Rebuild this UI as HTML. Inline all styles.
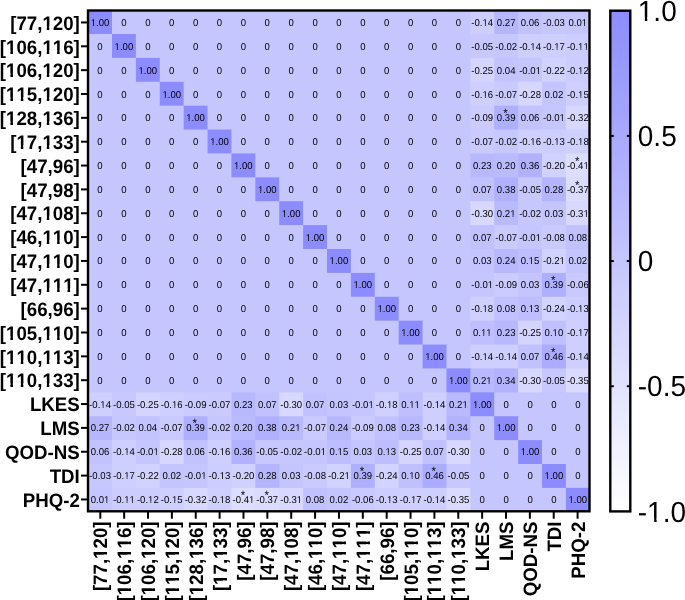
<!DOCTYPE html><html><head><meta charset="utf-8"><title>Correlation heatmap</title><style>html,body{margin:0;padding:0;background:#fff;width:685px;height:600px;overflow:hidden}svg{display:block;will-change:transform}text{font-family:"Liberation Sans",sans-serif;text-rendering:geometricPrecision;font-kerning:none}</style></head><body>
<svg width="685" height="600" viewBox="0 0 685 600">
<defs><linearGradient id="cb" x1="0" y1="0" x2="0" y2="1"><stop offset="0" stop-color="rgb(140,140,255)"/><stop offset="1" stop-color="#ffffff"/></linearGradient></defs>
<rect x="88.10" y="10.10" width="24.89" height="24.89" fill="rgb(140,140,255)"/>
<rect x="111.99" y="10.10" width="24.89" height="24.89" fill="rgb(198,198,255)"/>
<rect x="135.88" y="10.10" width="24.89" height="24.89" fill="rgb(198,198,255)"/>
<rect x="159.77" y="10.10" width="24.89" height="24.89" fill="rgb(198,198,255)"/>
<rect x="183.66" y="10.10" width="24.89" height="24.89" fill="rgb(198,198,255)"/>
<rect x="207.55" y="10.10" width="24.89" height="24.89" fill="rgb(198,198,255)"/>
<rect x="231.44" y="10.10" width="24.89" height="24.89" fill="rgb(198,198,255)"/>
<rect x="255.33" y="10.10" width="24.89" height="24.89" fill="rgb(198,198,255)"/>
<rect x="279.22" y="10.10" width="24.89" height="24.89" fill="rgb(198,198,255)"/>
<rect x="303.11" y="10.10" width="24.89" height="24.89" fill="rgb(198,198,255)"/>
<rect x="327.00" y="10.10" width="24.89" height="24.89" fill="rgb(198,198,255)"/>
<rect x="350.89" y="10.10" width="24.89" height="24.89" fill="rgb(198,198,255)"/>
<rect x="374.78" y="10.10" width="24.89" height="24.89" fill="rgb(198,198,255)"/>
<rect x="398.67" y="10.10" width="24.89" height="24.89" fill="rgb(198,198,255)"/>
<rect x="422.56" y="10.10" width="24.89" height="24.89" fill="rgb(198,198,255)"/>
<rect x="446.45" y="10.10" width="24.89" height="24.89" fill="rgb(198,198,255)"/>
<rect x="470.34" y="10.10" width="24.89" height="24.89" fill="rgb(206,206,255)"/>
<rect x="494.23" y="10.10" width="24.89" height="24.89" fill="rgb(182,182,255)"/>
<rect x="518.12" y="10.10" width="24.89" height="24.89" fill="rgb(194,194,255)"/>
<rect x="542.01" y="10.10" width="24.89" height="24.89" fill="rgb(199,199,255)"/>
<rect x="565.90" y="10.10" width="23.89" height="24.89" fill="rgb(197,197,255)"/>
<rect x="88.10" y="33.99" width="24.89" height="24.89" fill="rgb(198,198,255)"/>
<rect x="111.99" y="33.99" width="24.89" height="24.89" fill="rgb(140,140,255)"/>
<rect x="135.88" y="33.99" width="24.89" height="24.89" fill="rgb(198,198,255)"/>
<rect x="159.77" y="33.99" width="24.89" height="24.89" fill="rgb(198,198,255)"/>
<rect x="183.66" y="33.99" width="24.89" height="24.89" fill="rgb(198,198,255)"/>
<rect x="207.55" y="33.99" width="24.89" height="24.89" fill="rgb(198,198,255)"/>
<rect x="231.44" y="33.99" width="24.89" height="24.89" fill="rgb(198,198,255)"/>
<rect x="255.33" y="33.99" width="24.89" height="24.89" fill="rgb(198,198,255)"/>
<rect x="279.22" y="33.99" width="24.89" height="24.89" fill="rgb(198,198,255)"/>
<rect x="303.11" y="33.99" width="24.89" height="24.89" fill="rgb(198,198,255)"/>
<rect x="327.00" y="33.99" width="24.89" height="24.89" fill="rgb(198,198,255)"/>
<rect x="350.89" y="33.99" width="24.89" height="24.89" fill="rgb(198,198,255)"/>
<rect x="374.78" y="33.99" width="24.89" height="24.89" fill="rgb(198,198,255)"/>
<rect x="398.67" y="33.99" width="24.89" height="24.89" fill="rgb(198,198,255)"/>
<rect x="422.56" y="33.99" width="24.89" height="24.89" fill="rgb(198,198,255)"/>
<rect x="446.45" y="33.99" width="24.89" height="24.89" fill="rgb(198,198,255)"/>
<rect x="470.34" y="33.99" width="24.89" height="24.89" fill="rgb(200,200,255)"/>
<rect x="494.23" y="33.99" width="24.89" height="24.89" fill="rgb(199,199,255)"/>
<rect x="518.12" y="33.99" width="24.89" height="24.89" fill="rgb(206,206,255)"/>
<rect x="542.01" y="33.99" width="24.89" height="24.89" fill="rgb(207,207,255)"/>
<rect x="565.90" y="33.99" width="23.89" height="24.89" fill="rgb(204,204,255)"/>
<rect x="88.10" y="57.88" width="24.89" height="24.89" fill="rgb(198,198,255)"/>
<rect x="111.99" y="57.88" width="24.89" height="24.89" fill="rgb(198,198,255)"/>
<rect x="135.88" y="57.88" width="24.89" height="24.89" fill="rgb(140,140,255)"/>
<rect x="159.77" y="57.88" width="24.89" height="24.89" fill="rgb(198,198,255)"/>
<rect x="183.66" y="57.88" width="24.89" height="24.89" fill="rgb(198,198,255)"/>
<rect x="207.55" y="57.88" width="24.89" height="24.89" fill="rgb(198,198,255)"/>
<rect x="231.44" y="57.88" width="24.89" height="24.89" fill="rgb(198,198,255)"/>
<rect x="255.33" y="57.88" width="24.89" height="24.89" fill="rgb(198,198,255)"/>
<rect x="279.22" y="57.88" width="24.89" height="24.89" fill="rgb(198,198,255)"/>
<rect x="303.11" y="57.88" width="24.89" height="24.89" fill="rgb(198,198,255)"/>
<rect x="327.00" y="57.88" width="24.89" height="24.89" fill="rgb(198,198,255)"/>
<rect x="350.89" y="57.88" width="24.89" height="24.89" fill="rgb(198,198,255)"/>
<rect x="374.78" y="57.88" width="24.89" height="24.89" fill="rgb(198,198,255)"/>
<rect x="398.67" y="57.88" width="24.89" height="24.89" fill="rgb(198,198,255)"/>
<rect x="422.56" y="57.88" width="24.89" height="24.89" fill="rgb(198,198,255)"/>
<rect x="446.45" y="57.88" width="24.89" height="24.89" fill="rgb(198,198,255)"/>
<rect x="470.34" y="57.88" width="24.89" height="24.89" fill="rgb(212,212,255)"/>
<rect x="494.23" y="57.88" width="24.89" height="24.89" fill="rgb(195,195,255)"/>
<rect x="518.12" y="57.88" width="24.89" height="24.89" fill="rgb(198,198,255)"/>
<rect x="542.01" y="57.88" width="24.89" height="24.89" fill="rgb(210,210,255)"/>
<rect x="565.90" y="57.88" width="23.89" height="24.89" fill="rgb(204,204,255)"/>
<rect x="88.10" y="81.77" width="24.89" height="24.89" fill="rgb(198,198,255)"/>
<rect x="111.99" y="81.77" width="24.89" height="24.89" fill="rgb(198,198,255)"/>
<rect x="135.88" y="81.77" width="24.89" height="24.89" fill="rgb(198,198,255)"/>
<rect x="159.77" y="81.77" width="24.89" height="24.89" fill="rgb(140,140,255)"/>
<rect x="183.66" y="81.77" width="24.89" height="24.89" fill="rgb(198,198,255)"/>
<rect x="207.55" y="81.77" width="24.89" height="24.89" fill="rgb(198,198,255)"/>
<rect x="231.44" y="81.77" width="24.89" height="24.89" fill="rgb(198,198,255)"/>
<rect x="255.33" y="81.77" width="24.89" height="24.89" fill="rgb(198,198,255)"/>
<rect x="279.22" y="81.77" width="24.89" height="24.89" fill="rgb(198,198,255)"/>
<rect x="303.11" y="81.77" width="24.89" height="24.89" fill="rgb(198,198,255)"/>
<rect x="327.00" y="81.77" width="24.89" height="24.89" fill="rgb(198,198,255)"/>
<rect x="350.89" y="81.77" width="24.89" height="24.89" fill="rgb(198,198,255)"/>
<rect x="374.78" y="81.77" width="24.89" height="24.89" fill="rgb(198,198,255)"/>
<rect x="398.67" y="81.77" width="24.89" height="24.89" fill="rgb(198,198,255)"/>
<rect x="422.56" y="81.77" width="24.89" height="24.89" fill="rgb(198,198,255)"/>
<rect x="446.45" y="81.77" width="24.89" height="24.89" fill="rgb(198,198,255)"/>
<rect x="470.34" y="81.77" width="24.89" height="24.89" fill="rgb(207,207,255)"/>
<rect x="494.23" y="81.77" width="24.89" height="24.89" fill="rgb(202,202,255)"/>
<rect x="518.12" y="81.77" width="24.89" height="24.89" fill="rgb(214,214,255)"/>
<rect x="542.01" y="81.77" width="24.89" height="24.89" fill="rgb(196,196,255)"/>
<rect x="565.90" y="81.77" width="23.89" height="24.89" fill="rgb(206,206,255)"/>
<rect x="88.10" y="105.66" width="24.89" height="24.89" fill="rgb(198,198,255)"/>
<rect x="111.99" y="105.66" width="24.89" height="24.89" fill="rgb(198,198,255)"/>
<rect x="135.88" y="105.66" width="24.89" height="24.89" fill="rgb(198,198,255)"/>
<rect x="159.77" y="105.66" width="24.89" height="24.89" fill="rgb(198,198,255)"/>
<rect x="183.66" y="105.66" width="24.89" height="24.89" fill="rgb(140,140,255)"/>
<rect x="207.55" y="105.66" width="24.89" height="24.89" fill="rgb(198,198,255)"/>
<rect x="231.44" y="105.66" width="24.89" height="24.89" fill="rgb(198,198,255)"/>
<rect x="255.33" y="105.66" width="24.89" height="24.89" fill="rgb(198,198,255)"/>
<rect x="279.22" y="105.66" width="24.89" height="24.89" fill="rgb(198,198,255)"/>
<rect x="303.11" y="105.66" width="24.89" height="24.89" fill="rgb(198,198,255)"/>
<rect x="327.00" y="105.66" width="24.89" height="24.89" fill="rgb(198,198,255)"/>
<rect x="350.89" y="105.66" width="24.89" height="24.89" fill="rgb(198,198,255)"/>
<rect x="374.78" y="105.66" width="24.89" height="24.89" fill="rgb(198,198,255)"/>
<rect x="398.67" y="105.66" width="24.89" height="24.89" fill="rgb(198,198,255)"/>
<rect x="422.56" y="105.66" width="24.89" height="24.89" fill="rgb(198,198,255)"/>
<rect x="446.45" y="105.66" width="24.89" height="24.89" fill="rgb(198,198,255)"/>
<rect x="470.34" y="105.66" width="24.89" height="24.89" fill="rgb(203,203,255)"/>
<rect x="494.23" y="105.66" width="24.89" height="24.89" fill="rgb(175,175,255)"/>
<rect x="518.12" y="105.66" width="24.89" height="24.89" fill="rgb(194,194,255)"/>
<rect x="542.01" y="105.66" width="24.89" height="24.89" fill="rgb(198,198,255)"/>
<rect x="565.90" y="105.66" width="23.89" height="24.89" fill="rgb(216,216,255)"/>
<rect x="88.10" y="129.55" width="24.89" height="24.89" fill="rgb(198,198,255)"/>
<rect x="111.99" y="129.55" width="24.89" height="24.89" fill="rgb(198,198,255)"/>
<rect x="135.88" y="129.55" width="24.89" height="24.89" fill="rgb(198,198,255)"/>
<rect x="159.77" y="129.55" width="24.89" height="24.89" fill="rgb(198,198,255)"/>
<rect x="183.66" y="129.55" width="24.89" height="24.89" fill="rgb(198,198,255)"/>
<rect x="207.55" y="129.55" width="24.89" height="24.89" fill="rgb(140,140,255)"/>
<rect x="231.44" y="129.55" width="24.89" height="24.89" fill="rgb(198,198,255)"/>
<rect x="255.33" y="129.55" width="24.89" height="24.89" fill="rgb(198,198,255)"/>
<rect x="279.22" y="129.55" width="24.89" height="24.89" fill="rgb(198,198,255)"/>
<rect x="303.11" y="129.55" width="24.89" height="24.89" fill="rgb(198,198,255)"/>
<rect x="327.00" y="129.55" width="24.89" height="24.89" fill="rgb(198,198,255)"/>
<rect x="350.89" y="129.55" width="24.89" height="24.89" fill="rgb(198,198,255)"/>
<rect x="374.78" y="129.55" width="24.89" height="24.89" fill="rgb(198,198,255)"/>
<rect x="398.67" y="129.55" width="24.89" height="24.89" fill="rgb(198,198,255)"/>
<rect x="422.56" y="129.55" width="24.89" height="24.89" fill="rgb(198,198,255)"/>
<rect x="446.45" y="129.55" width="24.89" height="24.89" fill="rgb(198,198,255)"/>
<rect x="470.34" y="129.55" width="24.89" height="24.89" fill="rgb(202,202,255)"/>
<rect x="494.23" y="129.55" width="24.89" height="24.89" fill="rgb(199,199,255)"/>
<rect x="518.12" y="129.55" width="24.89" height="24.89" fill="rgb(207,207,255)"/>
<rect x="542.01" y="129.55" width="24.89" height="24.89" fill="rgb(205,205,255)"/>
<rect x="565.90" y="129.55" width="23.89" height="24.89" fill="rgb(208,208,255)"/>
<rect x="88.10" y="153.44" width="24.89" height="24.89" fill="rgb(198,198,255)"/>
<rect x="111.99" y="153.44" width="24.89" height="24.89" fill="rgb(198,198,255)"/>
<rect x="135.88" y="153.44" width="24.89" height="24.89" fill="rgb(198,198,255)"/>
<rect x="159.77" y="153.44" width="24.89" height="24.89" fill="rgb(198,198,255)"/>
<rect x="183.66" y="153.44" width="24.89" height="24.89" fill="rgb(198,198,255)"/>
<rect x="207.55" y="153.44" width="24.89" height="24.89" fill="rgb(198,198,255)"/>
<rect x="231.44" y="153.44" width="24.89" height="24.89" fill="rgb(140,140,255)"/>
<rect x="255.33" y="153.44" width="24.89" height="24.89" fill="rgb(198,198,255)"/>
<rect x="279.22" y="153.44" width="24.89" height="24.89" fill="rgb(198,198,255)"/>
<rect x="303.11" y="153.44" width="24.89" height="24.89" fill="rgb(198,198,255)"/>
<rect x="327.00" y="153.44" width="24.89" height="24.89" fill="rgb(198,198,255)"/>
<rect x="350.89" y="153.44" width="24.89" height="24.89" fill="rgb(198,198,255)"/>
<rect x="374.78" y="153.44" width="24.89" height="24.89" fill="rgb(198,198,255)"/>
<rect x="398.67" y="153.44" width="24.89" height="24.89" fill="rgb(198,198,255)"/>
<rect x="422.56" y="153.44" width="24.89" height="24.89" fill="rgb(198,198,255)"/>
<rect x="446.45" y="153.44" width="24.89" height="24.89" fill="rgb(198,198,255)"/>
<rect x="470.34" y="153.44" width="24.89" height="24.89" fill="rgb(184,184,255)"/>
<rect x="494.23" y="153.44" width="24.89" height="24.89" fill="rgb(186,186,255)"/>
<rect x="518.12" y="153.44" width="24.89" height="24.89" fill="rgb(177,177,255)"/>
<rect x="542.01" y="153.44" width="24.89" height="24.89" fill="rgb(209,209,255)"/>
<rect x="565.90" y="153.44" width="23.89" height="24.89" fill="rgb(221,221,255)"/>
<rect x="88.10" y="177.33" width="24.89" height="24.89" fill="rgb(198,198,255)"/>
<rect x="111.99" y="177.33" width="24.89" height="24.89" fill="rgb(198,198,255)"/>
<rect x="135.88" y="177.33" width="24.89" height="24.89" fill="rgb(198,198,255)"/>
<rect x="159.77" y="177.33" width="24.89" height="24.89" fill="rgb(198,198,255)"/>
<rect x="183.66" y="177.33" width="24.89" height="24.89" fill="rgb(198,198,255)"/>
<rect x="207.55" y="177.33" width="24.89" height="24.89" fill="rgb(198,198,255)"/>
<rect x="231.44" y="177.33" width="24.89" height="24.89" fill="rgb(198,198,255)"/>
<rect x="255.33" y="177.33" width="24.89" height="24.89" fill="rgb(140,140,255)"/>
<rect x="279.22" y="177.33" width="24.89" height="24.89" fill="rgb(198,198,255)"/>
<rect x="303.11" y="177.33" width="24.89" height="24.89" fill="rgb(198,198,255)"/>
<rect x="327.00" y="177.33" width="24.89" height="24.89" fill="rgb(198,198,255)"/>
<rect x="350.89" y="177.33" width="24.89" height="24.89" fill="rgb(198,198,255)"/>
<rect x="374.78" y="177.33" width="24.89" height="24.89" fill="rgb(198,198,255)"/>
<rect x="398.67" y="177.33" width="24.89" height="24.89" fill="rgb(198,198,255)"/>
<rect x="422.56" y="177.33" width="24.89" height="24.89" fill="rgb(198,198,255)"/>
<rect x="446.45" y="177.33" width="24.89" height="24.89" fill="rgb(198,198,255)"/>
<rect x="470.34" y="177.33" width="24.89" height="24.89" fill="rgb(193,193,255)"/>
<rect x="494.23" y="177.33" width="24.89" height="24.89" fill="rgb(176,176,255)"/>
<rect x="518.12" y="177.33" width="24.89" height="24.89" fill="rgb(200,200,255)"/>
<rect x="542.01" y="177.33" width="24.89" height="24.89" fill="rgb(181,181,255)"/>
<rect x="565.90" y="177.33" width="23.89" height="24.89" fill="rgb(219,219,255)"/>
<rect x="88.10" y="201.22" width="24.89" height="24.89" fill="rgb(198,198,255)"/>
<rect x="111.99" y="201.22" width="24.89" height="24.89" fill="rgb(198,198,255)"/>
<rect x="135.88" y="201.22" width="24.89" height="24.89" fill="rgb(198,198,255)"/>
<rect x="159.77" y="201.22" width="24.89" height="24.89" fill="rgb(198,198,255)"/>
<rect x="183.66" y="201.22" width="24.89" height="24.89" fill="rgb(198,198,255)"/>
<rect x="207.55" y="201.22" width="24.89" height="24.89" fill="rgb(198,198,255)"/>
<rect x="231.44" y="201.22" width="24.89" height="24.89" fill="rgb(198,198,255)"/>
<rect x="255.33" y="201.22" width="24.89" height="24.89" fill="rgb(198,198,255)"/>
<rect x="279.22" y="201.22" width="24.89" height="24.89" fill="rgb(140,140,255)"/>
<rect x="303.11" y="201.22" width="24.89" height="24.89" fill="rgb(198,198,255)"/>
<rect x="327.00" y="201.22" width="24.89" height="24.89" fill="rgb(198,198,255)"/>
<rect x="350.89" y="201.22" width="24.89" height="24.89" fill="rgb(198,198,255)"/>
<rect x="374.78" y="201.22" width="24.89" height="24.89" fill="rgb(198,198,255)"/>
<rect x="398.67" y="201.22" width="24.89" height="24.89" fill="rgb(198,198,255)"/>
<rect x="422.56" y="201.22" width="24.89" height="24.89" fill="rgb(198,198,255)"/>
<rect x="446.45" y="201.22" width="24.89" height="24.89" fill="rgb(198,198,255)"/>
<rect x="470.34" y="201.22" width="24.89" height="24.89" fill="rgb(215,215,255)"/>
<rect x="494.23" y="201.22" width="24.89" height="24.89" fill="rgb(185,185,255)"/>
<rect x="518.12" y="201.22" width="24.89" height="24.89" fill="rgb(199,199,255)"/>
<rect x="542.01" y="201.22" width="24.89" height="24.89" fill="rgb(196,196,255)"/>
<rect x="565.90" y="201.22" width="23.89" height="24.89" fill="rgb(215,215,255)"/>
<rect x="88.10" y="225.11" width="24.89" height="24.89" fill="rgb(198,198,255)"/>
<rect x="111.99" y="225.11" width="24.89" height="24.89" fill="rgb(198,198,255)"/>
<rect x="135.88" y="225.11" width="24.89" height="24.89" fill="rgb(198,198,255)"/>
<rect x="159.77" y="225.11" width="24.89" height="24.89" fill="rgb(198,198,255)"/>
<rect x="183.66" y="225.11" width="24.89" height="24.89" fill="rgb(198,198,255)"/>
<rect x="207.55" y="225.11" width="24.89" height="24.89" fill="rgb(198,198,255)"/>
<rect x="231.44" y="225.11" width="24.89" height="24.89" fill="rgb(198,198,255)"/>
<rect x="255.33" y="225.11" width="24.89" height="24.89" fill="rgb(198,198,255)"/>
<rect x="279.22" y="225.11" width="24.89" height="24.89" fill="rgb(198,198,255)"/>
<rect x="303.11" y="225.11" width="24.89" height="24.89" fill="rgb(140,140,255)"/>
<rect x="327.00" y="225.11" width="24.89" height="24.89" fill="rgb(198,198,255)"/>
<rect x="350.89" y="225.11" width="24.89" height="24.89" fill="rgb(198,198,255)"/>
<rect x="374.78" y="225.11" width="24.89" height="24.89" fill="rgb(198,198,255)"/>
<rect x="398.67" y="225.11" width="24.89" height="24.89" fill="rgb(198,198,255)"/>
<rect x="422.56" y="225.11" width="24.89" height="24.89" fill="rgb(198,198,255)"/>
<rect x="446.45" y="225.11" width="24.89" height="24.89" fill="rgb(198,198,255)"/>
<rect x="470.34" y="225.11" width="24.89" height="24.89" fill="rgb(193,193,255)"/>
<rect x="494.23" y="225.11" width="24.89" height="24.89" fill="rgb(202,202,255)"/>
<rect x="518.12" y="225.11" width="24.89" height="24.89" fill="rgb(198,198,255)"/>
<rect x="542.01" y="225.11" width="24.89" height="24.89" fill="rgb(202,202,255)"/>
<rect x="565.90" y="225.11" width="23.89" height="24.89" fill="rgb(193,193,255)"/>
<rect x="88.10" y="249.00" width="24.89" height="24.89" fill="rgb(198,198,255)"/>
<rect x="111.99" y="249.00" width="24.89" height="24.89" fill="rgb(198,198,255)"/>
<rect x="135.88" y="249.00" width="24.89" height="24.89" fill="rgb(198,198,255)"/>
<rect x="159.77" y="249.00" width="24.89" height="24.89" fill="rgb(198,198,255)"/>
<rect x="183.66" y="249.00" width="24.89" height="24.89" fill="rgb(198,198,255)"/>
<rect x="207.55" y="249.00" width="24.89" height="24.89" fill="rgb(198,198,255)"/>
<rect x="231.44" y="249.00" width="24.89" height="24.89" fill="rgb(198,198,255)"/>
<rect x="255.33" y="249.00" width="24.89" height="24.89" fill="rgb(198,198,255)"/>
<rect x="279.22" y="249.00" width="24.89" height="24.89" fill="rgb(198,198,255)"/>
<rect x="303.11" y="249.00" width="24.89" height="24.89" fill="rgb(198,198,255)"/>
<rect x="327.00" y="249.00" width="24.89" height="24.89" fill="rgb(140,140,255)"/>
<rect x="350.89" y="249.00" width="24.89" height="24.89" fill="rgb(198,198,255)"/>
<rect x="374.78" y="249.00" width="24.89" height="24.89" fill="rgb(198,198,255)"/>
<rect x="398.67" y="249.00" width="24.89" height="24.89" fill="rgb(198,198,255)"/>
<rect x="422.56" y="249.00" width="24.89" height="24.89" fill="rgb(198,198,255)"/>
<rect x="446.45" y="249.00" width="24.89" height="24.89" fill="rgb(198,198,255)"/>
<rect x="470.34" y="249.00" width="24.89" height="24.89" fill="rgb(196,196,255)"/>
<rect x="494.23" y="249.00" width="24.89" height="24.89" fill="rgb(184,184,255)"/>
<rect x="518.12" y="249.00" width="24.89" height="24.89" fill="rgb(189,189,255)"/>
<rect x="542.01" y="249.00" width="24.89" height="24.89" fill="rgb(210,210,255)"/>
<rect x="565.90" y="249.00" width="23.89" height="24.89" fill="rgb(196,196,255)"/>
<rect x="88.10" y="272.89" width="24.89" height="24.89" fill="rgb(198,198,255)"/>
<rect x="111.99" y="272.89" width="24.89" height="24.89" fill="rgb(198,198,255)"/>
<rect x="135.88" y="272.89" width="24.89" height="24.89" fill="rgb(198,198,255)"/>
<rect x="159.77" y="272.89" width="24.89" height="24.89" fill="rgb(198,198,255)"/>
<rect x="183.66" y="272.89" width="24.89" height="24.89" fill="rgb(198,198,255)"/>
<rect x="207.55" y="272.89" width="24.89" height="24.89" fill="rgb(198,198,255)"/>
<rect x="231.44" y="272.89" width="24.89" height="24.89" fill="rgb(198,198,255)"/>
<rect x="255.33" y="272.89" width="24.89" height="24.89" fill="rgb(198,198,255)"/>
<rect x="279.22" y="272.89" width="24.89" height="24.89" fill="rgb(198,198,255)"/>
<rect x="303.11" y="272.89" width="24.89" height="24.89" fill="rgb(198,198,255)"/>
<rect x="327.00" y="272.89" width="24.89" height="24.89" fill="rgb(198,198,255)"/>
<rect x="350.89" y="272.89" width="24.89" height="24.89" fill="rgb(140,140,255)"/>
<rect x="374.78" y="272.89" width="24.89" height="24.89" fill="rgb(198,198,255)"/>
<rect x="398.67" y="272.89" width="24.89" height="24.89" fill="rgb(198,198,255)"/>
<rect x="422.56" y="272.89" width="24.89" height="24.89" fill="rgb(198,198,255)"/>
<rect x="446.45" y="272.89" width="24.89" height="24.89" fill="rgb(198,198,255)"/>
<rect x="470.34" y="272.89" width="24.89" height="24.89" fill="rgb(198,198,255)"/>
<rect x="494.23" y="272.89" width="24.89" height="24.89" fill="rgb(203,203,255)"/>
<rect x="518.12" y="272.89" width="24.89" height="24.89" fill="rgb(196,196,255)"/>
<rect x="542.01" y="272.89" width="24.89" height="24.89" fill="rgb(175,175,255)"/>
<rect x="565.90" y="272.89" width="23.89" height="24.89" fill="rgb(201,201,255)"/>
<rect x="88.10" y="296.78" width="24.89" height="24.89" fill="rgb(198,198,255)"/>
<rect x="111.99" y="296.78" width="24.89" height="24.89" fill="rgb(198,198,255)"/>
<rect x="135.88" y="296.78" width="24.89" height="24.89" fill="rgb(198,198,255)"/>
<rect x="159.77" y="296.78" width="24.89" height="24.89" fill="rgb(198,198,255)"/>
<rect x="183.66" y="296.78" width="24.89" height="24.89" fill="rgb(198,198,255)"/>
<rect x="207.55" y="296.78" width="24.89" height="24.89" fill="rgb(198,198,255)"/>
<rect x="231.44" y="296.78" width="24.89" height="24.89" fill="rgb(198,198,255)"/>
<rect x="255.33" y="296.78" width="24.89" height="24.89" fill="rgb(198,198,255)"/>
<rect x="279.22" y="296.78" width="24.89" height="24.89" fill="rgb(198,198,255)"/>
<rect x="303.11" y="296.78" width="24.89" height="24.89" fill="rgb(198,198,255)"/>
<rect x="327.00" y="296.78" width="24.89" height="24.89" fill="rgb(198,198,255)"/>
<rect x="350.89" y="296.78" width="24.89" height="24.89" fill="rgb(198,198,255)"/>
<rect x="374.78" y="296.78" width="24.89" height="24.89" fill="rgb(140,140,255)"/>
<rect x="398.67" y="296.78" width="24.89" height="24.89" fill="rgb(198,198,255)"/>
<rect x="422.56" y="296.78" width="24.89" height="24.89" fill="rgb(198,198,255)"/>
<rect x="446.45" y="296.78" width="24.89" height="24.89" fill="rgb(198,198,255)"/>
<rect x="470.34" y="296.78" width="24.89" height="24.89" fill="rgb(208,208,255)"/>
<rect x="494.23" y="296.78" width="24.89" height="24.89" fill="rgb(193,193,255)"/>
<rect x="518.12" y="296.78" width="24.89" height="24.89" fill="rgb(190,190,255)"/>
<rect x="542.01" y="296.78" width="24.89" height="24.89" fill="rgb(211,211,255)"/>
<rect x="565.90" y="296.78" width="23.89" height="24.89" fill="rgb(205,205,255)"/>
<rect x="88.10" y="320.67" width="24.89" height="24.89" fill="rgb(198,198,255)"/>
<rect x="111.99" y="320.67" width="24.89" height="24.89" fill="rgb(198,198,255)"/>
<rect x="135.88" y="320.67" width="24.89" height="24.89" fill="rgb(198,198,255)"/>
<rect x="159.77" y="320.67" width="24.89" height="24.89" fill="rgb(198,198,255)"/>
<rect x="183.66" y="320.67" width="24.89" height="24.89" fill="rgb(198,198,255)"/>
<rect x="207.55" y="320.67" width="24.89" height="24.89" fill="rgb(198,198,255)"/>
<rect x="231.44" y="320.67" width="24.89" height="24.89" fill="rgb(198,198,255)"/>
<rect x="255.33" y="320.67" width="24.89" height="24.89" fill="rgb(198,198,255)"/>
<rect x="279.22" y="320.67" width="24.89" height="24.89" fill="rgb(198,198,255)"/>
<rect x="303.11" y="320.67" width="24.89" height="24.89" fill="rgb(198,198,255)"/>
<rect x="327.00" y="320.67" width="24.89" height="24.89" fill="rgb(198,198,255)"/>
<rect x="350.89" y="320.67" width="24.89" height="24.89" fill="rgb(198,198,255)"/>
<rect x="374.78" y="320.67" width="24.89" height="24.89" fill="rgb(198,198,255)"/>
<rect x="398.67" y="320.67" width="24.89" height="24.89" fill="rgb(140,140,255)"/>
<rect x="422.56" y="320.67" width="24.89" height="24.89" fill="rgb(198,198,255)"/>
<rect x="446.45" y="320.67" width="24.89" height="24.89" fill="rgb(198,198,255)"/>
<rect x="470.34" y="320.67" width="24.89" height="24.89" fill="rgb(191,191,255)"/>
<rect x="494.23" y="320.67" width="24.89" height="24.89" fill="rgb(184,184,255)"/>
<rect x="518.12" y="320.67" width="24.89" height="24.89" fill="rgb(212,212,255)"/>
<rect x="542.01" y="320.67" width="24.89" height="24.89" fill="rgb(192,192,255)"/>
<rect x="565.90" y="320.67" width="23.89" height="24.89" fill="rgb(207,207,255)"/>
<rect x="88.10" y="344.56" width="24.89" height="24.89" fill="rgb(198,198,255)"/>
<rect x="111.99" y="344.56" width="24.89" height="24.89" fill="rgb(198,198,255)"/>
<rect x="135.88" y="344.56" width="24.89" height="24.89" fill="rgb(198,198,255)"/>
<rect x="159.77" y="344.56" width="24.89" height="24.89" fill="rgb(198,198,255)"/>
<rect x="183.66" y="344.56" width="24.89" height="24.89" fill="rgb(198,198,255)"/>
<rect x="207.55" y="344.56" width="24.89" height="24.89" fill="rgb(198,198,255)"/>
<rect x="231.44" y="344.56" width="24.89" height="24.89" fill="rgb(198,198,255)"/>
<rect x="255.33" y="344.56" width="24.89" height="24.89" fill="rgb(198,198,255)"/>
<rect x="279.22" y="344.56" width="24.89" height="24.89" fill="rgb(198,198,255)"/>
<rect x="303.11" y="344.56" width="24.89" height="24.89" fill="rgb(198,198,255)"/>
<rect x="327.00" y="344.56" width="24.89" height="24.89" fill="rgb(198,198,255)"/>
<rect x="350.89" y="344.56" width="24.89" height="24.89" fill="rgb(198,198,255)"/>
<rect x="374.78" y="344.56" width="24.89" height="24.89" fill="rgb(198,198,255)"/>
<rect x="398.67" y="344.56" width="24.89" height="24.89" fill="rgb(198,198,255)"/>
<rect x="422.56" y="344.56" width="24.89" height="24.89" fill="rgb(140,140,255)"/>
<rect x="446.45" y="344.56" width="24.89" height="24.89" fill="rgb(198,198,255)"/>
<rect x="470.34" y="344.56" width="24.89" height="24.89" fill="rgb(206,206,255)"/>
<rect x="494.23" y="344.56" width="24.89" height="24.89" fill="rgb(206,206,255)"/>
<rect x="518.12" y="344.56" width="24.89" height="24.89" fill="rgb(193,193,255)"/>
<rect x="542.01" y="344.56" width="24.89" height="24.89" fill="rgb(171,171,255)"/>
<rect x="565.90" y="344.56" width="23.89" height="24.89" fill="rgb(206,206,255)"/>
<rect x="88.10" y="368.45" width="24.89" height="24.89" fill="rgb(198,198,255)"/>
<rect x="111.99" y="368.45" width="24.89" height="24.89" fill="rgb(198,198,255)"/>
<rect x="135.88" y="368.45" width="24.89" height="24.89" fill="rgb(198,198,255)"/>
<rect x="159.77" y="368.45" width="24.89" height="24.89" fill="rgb(198,198,255)"/>
<rect x="183.66" y="368.45" width="24.89" height="24.89" fill="rgb(198,198,255)"/>
<rect x="207.55" y="368.45" width="24.89" height="24.89" fill="rgb(198,198,255)"/>
<rect x="231.44" y="368.45" width="24.89" height="24.89" fill="rgb(198,198,255)"/>
<rect x="255.33" y="368.45" width="24.89" height="24.89" fill="rgb(198,198,255)"/>
<rect x="279.22" y="368.45" width="24.89" height="24.89" fill="rgb(198,198,255)"/>
<rect x="303.11" y="368.45" width="24.89" height="24.89" fill="rgb(198,198,255)"/>
<rect x="327.00" y="368.45" width="24.89" height="24.89" fill="rgb(198,198,255)"/>
<rect x="350.89" y="368.45" width="24.89" height="24.89" fill="rgb(198,198,255)"/>
<rect x="374.78" y="368.45" width="24.89" height="24.89" fill="rgb(198,198,255)"/>
<rect x="398.67" y="368.45" width="24.89" height="24.89" fill="rgb(198,198,255)"/>
<rect x="422.56" y="368.45" width="24.89" height="24.89" fill="rgb(198,198,255)"/>
<rect x="446.45" y="368.45" width="24.89" height="24.89" fill="rgb(140,140,255)"/>
<rect x="470.34" y="368.45" width="24.89" height="24.89" fill="rgb(185,185,255)"/>
<rect x="494.23" y="368.45" width="24.89" height="24.89" fill="rgb(178,178,255)"/>
<rect x="518.12" y="368.45" width="24.89" height="24.89" fill="rgb(215,215,255)"/>
<rect x="542.01" y="368.45" width="24.89" height="24.89" fill="rgb(200,200,255)"/>
<rect x="565.90" y="368.45" width="23.89" height="24.89" fill="rgb(218,218,255)"/>
<rect x="88.10" y="392.34" width="24.89" height="24.89" fill="rgb(206,206,255)"/>
<rect x="111.99" y="392.34" width="24.89" height="24.89" fill="rgb(200,200,255)"/>
<rect x="135.88" y="392.34" width="24.89" height="24.89" fill="rgb(212,212,255)"/>
<rect x="159.77" y="392.34" width="24.89" height="24.89" fill="rgb(207,207,255)"/>
<rect x="183.66" y="392.34" width="24.89" height="24.89" fill="rgb(203,203,255)"/>
<rect x="207.55" y="392.34" width="24.89" height="24.89" fill="rgb(202,202,255)"/>
<rect x="231.44" y="392.34" width="24.89" height="24.89" fill="rgb(184,184,255)"/>
<rect x="255.33" y="392.34" width="24.89" height="24.89" fill="rgb(193,193,255)"/>
<rect x="279.22" y="392.34" width="24.89" height="24.89" fill="rgb(215,215,255)"/>
<rect x="303.11" y="392.34" width="24.89" height="24.89" fill="rgb(193,193,255)"/>
<rect x="327.00" y="392.34" width="24.89" height="24.89" fill="rgb(196,196,255)"/>
<rect x="350.89" y="392.34" width="24.89" height="24.89" fill="rgb(198,198,255)"/>
<rect x="374.78" y="392.34" width="24.89" height="24.89" fill="rgb(208,208,255)"/>
<rect x="398.67" y="392.34" width="24.89" height="24.89" fill="rgb(191,191,255)"/>
<rect x="422.56" y="392.34" width="24.89" height="24.89" fill="rgb(206,206,255)"/>
<rect x="446.45" y="392.34" width="24.89" height="24.89" fill="rgb(185,185,255)"/>
<rect x="470.34" y="392.34" width="24.89" height="24.89" fill="rgb(140,140,255)"/>
<rect x="494.23" y="392.34" width="24.89" height="24.89" fill="rgb(198,198,255)"/>
<rect x="518.12" y="392.34" width="24.89" height="24.89" fill="rgb(198,198,255)"/>
<rect x="542.01" y="392.34" width="24.89" height="24.89" fill="rgb(198,198,255)"/>
<rect x="565.90" y="392.34" width="23.89" height="24.89" fill="rgb(198,198,255)"/>
<rect x="88.10" y="416.23" width="24.89" height="24.89" fill="rgb(182,182,255)"/>
<rect x="111.99" y="416.23" width="24.89" height="24.89" fill="rgb(199,199,255)"/>
<rect x="135.88" y="416.23" width="24.89" height="24.89" fill="rgb(195,195,255)"/>
<rect x="159.77" y="416.23" width="24.89" height="24.89" fill="rgb(202,202,255)"/>
<rect x="183.66" y="416.23" width="24.89" height="24.89" fill="rgb(175,175,255)"/>
<rect x="207.55" y="416.23" width="24.89" height="24.89" fill="rgb(199,199,255)"/>
<rect x="231.44" y="416.23" width="24.89" height="24.89" fill="rgb(186,186,255)"/>
<rect x="255.33" y="416.23" width="24.89" height="24.89" fill="rgb(176,176,255)"/>
<rect x="279.22" y="416.23" width="24.89" height="24.89" fill="rgb(185,185,255)"/>
<rect x="303.11" y="416.23" width="24.89" height="24.89" fill="rgb(202,202,255)"/>
<rect x="327.00" y="416.23" width="24.89" height="24.89" fill="rgb(184,184,255)"/>
<rect x="350.89" y="416.23" width="24.89" height="24.89" fill="rgb(203,203,255)"/>
<rect x="374.78" y="416.23" width="24.89" height="24.89" fill="rgb(193,193,255)"/>
<rect x="398.67" y="416.23" width="24.89" height="24.89" fill="rgb(184,184,255)"/>
<rect x="422.56" y="416.23" width="24.89" height="24.89" fill="rgb(206,206,255)"/>
<rect x="446.45" y="416.23" width="24.89" height="24.89" fill="rgb(178,178,255)"/>
<rect x="470.34" y="416.23" width="24.89" height="24.89" fill="rgb(198,198,255)"/>
<rect x="494.23" y="416.23" width="24.89" height="24.89" fill="rgb(140,140,255)"/>
<rect x="518.12" y="416.23" width="24.89" height="24.89" fill="rgb(198,198,255)"/>
<rect x="542.01" y="416.23" width="24.89" height="24.89" fill="rgb(198,198,255)"/>
<rect x="565.90" y="416.23" width="23.89" height="24.89" fill="rgb(198,198,255)"/>
<rect x="88.10" y="440.12" width="24.89" height="24.89" fill="rgb(194,194,255)"/>
<rect x="111.99" y="440.12" width="24.89" height="24.89" fill="rgb(206,206,255)"/>
<rect x="135.88" y="440.12" width="24.89" height="24.89" fill="rgb(198,198,255)"/>
<rect x="159.77" y="440.12" width="24.89" height="24.89" fill="rgb(214,214,255)"/>
<rect x="183.66" y="440.12" width="24.89" height="24.89" fill="rgb(194,194,255)"/>
<rect x="207.55" y="440.12" width="24.89" height="24.89" fill="rgb(207,207,255)"/>
<rect x="231.44" y="440.12" width="24.89" height="24.89" fill="rgb(177,177,255)"/>
<rect x="255.33" y="440.12" width="24.89" height="24.89" fill="rgb(200,200,255)"/>
<rect x="279.22" y="440.12" width="24.89" height="24.89" fill="rgb(199,199,255)"/>
<rect x="303.11" y="440.12" width="24.89" height="24.89" fill="rgb(198,198,255)"/>
<rect x="327.00" y="440.12" width="24.89" height="24.89" fill="rgb(189,189,255)"/>
<rect x="350.89" y="440.12" width="24.89" height="24.89" fill="rgb(196,196,255)"/>
<rect x="374.78" y="440.12" width="24.89" height="24.89" fill="rgb(190,190,255)"/>
<rect x="398.67" y="440.12" width="24.89" height="24.89" fill="rgb(212,212,255)"/>
<rect x="422.56" y="440.12" width="24.89" height="24.89" fill="rgb(193,193,255)"/>
<rect x="446.45" y="440.12" width="24.89" height="24.89" fill="rgb(215,215,255)"/>
<rect x="470.34" y="440.12" width="24.89" height="24.89" fill="rgb(198,198,255)"/>
<rect x="494.23" y="440.12" width="24.89" height="24.89" fill="rgb(198,198,255)"/>
<rect x="518.12" y="440.12" width="24.89" height="24.89" fill="rgb(140,140,255)"/>
<rect x="542.01" y="440.12" width="24.89" height="24.89" fill="rgb(198,198,255)"/>
<rect x="565.90" y="440.12" width="23.89" height="24.89" fill="rgb(198,198,255)"/>
<rect x="88.10" y="464.01" width="24.89" height="24.89" fill="rgb(199,199,255)"/>
<rect x="111.99" y="464.01" width="24.89" height="24.89" fill="rgb(207,207,255)"/>
<rect x="135.88" y="464.01" width="24.89" height="24.89" fill="rgb(210,210,255)"/>
<rect x="159.77" y="464.01" width="24.89" height="24.89" fill="rgb(196,196,255)"/>
<rect x="183.66" y="464.01" width="24.89" height="24.89" fill="rgb(198,198,255)"/>
<rect x="207.55" y="464.01" width="24.89" height="24.89" fill="rgb(205,205,255)"/>
<rect x="231.44" y="464.01" width="24.89" height="24.89" fill="rgb(209,209,255)"/>
<rect x="255.33" y="464.01" width="24.89" height="24.89" fill="rgb(181,181,255)"/>
<rect x="279.22" y="464.01" width="24.89" height="24.89" fill="rgb(196,196,255)"/>
<rect x="303.11" y="464.01" width="24.89" height="24.89" fill="rgb(202,202,255)"/>
<rect x="327.00" y="464.01" width="24.89" height="24.89" fill="rgb(210,210,255)"/>
<rect x="350.89" y="464.01" width="24.89" height="24.89" fill="rgb(175,175,255)"/>
<rect x="374.78" y="464.01" width="24.89" height="24.89" fill="rgb(211,211,255)"/>
<rect x="398.67" y="464.01" width="24.89" height="24.89" fill="rgb(192,192,255)"/>
<rect x="422.56" y="464.01" width="24.89" height="24.89" fill="rgb(171,171,255)"/>
<rect x="446.45" y="464.01" width="24.89" height="24.89" fill="rgb(200,200,255)"/>
<rect x="470.34" y="464.01" width="24.89" height="24.89" fill="rgb(198,198,255)"/>
<rect x="494.23" y="464.01" width="24.89" height="24.89" fill="rgb(198,198,255)"/>
<rect x="518.12" y="464.01" width="24.89" height="24.89" fill="rgb(198,198,255)"/>
<rect x="542.01" y="464.01" width="24.89" height="24.89" fill="rgb(140,140,255)"/>
<rect x="565.90" y="464.01" width="23.89" height="24.89" fill="rgb(198,198,255)"/>
<rect x="88.10" y="487.90" width="24.89" height="23.89" fill="rgb(197,197,255)"/>
<rect x="111.99" y="487.90" width="24.89" height="23.89" fill="rgb(204,204,255)"/>
<rect x="135.88" y="487.90" width="24.89" height="23.89" fill="rgb(204,204,255)"/>
<rect x="159.77" y="487.90" width="24.89" height="23.89" fill="rgb(206,206,255)"/>
<rect x="183.66" y="487.90" width="24.89" height="23.89" fill="rgb(216,216,255)"/>
<rect x="207.55" y="487.90" width="24.89" height="23.89" fill="rgb(208,208,255)"/>
<rect x="231.44" y="487.90" width="24.89" height="23.89" fill="rgb(221,221,255)"/>
<rect x="255.33" y="487.90" width="24.89" height="23.89" fill="rgb(219,219,255)"/>
<rect x="279.22" y="487.90" width="24.89" height="23.89" fill="rgb(215,215,255)"/>
<rect x="303.11" y="487.90" width="24.89" height="23.89" fill="rgb(193,193,255)"/>
<rect x="327.00" y="487.90" width="24.89" height="23.89" fill="rgb(196,196,255)"/>
<rect x="350.89" y="487.90" width="24.89" height="23.89" fill="rgb(201,201,255)"/>
<rect x="374.78" y="487.90" width="24.89" height="23.89" fill="rgb(205,205,255)"/>
<rect x="398.67" y="487.90" width="24.89" height="23.89" fill="rgb(207,207,255)"/>
<rect x="422.56" y="487.90" width="24.89" height="23.89" fill="rgb(206,206,255)"/>
<rect x="446.45" y="487.90" width="24.89" height="23.89" fill="rgb(218,218,255)"/>
<rect x="470.34" y="487.90" width="24.89" height="23.89" fill="rgb(198,198,255)"/>
<rect x="494.23" y="487.90" width="24.89" height="23.89" fill="rgb(198,198,255)"/>
<rect x="518.12" y="487.90" width="24.89" height="23.89" fill="rgb(198,198,255)"/>
<rect x="542.01" y="487.90" width="24.89" height="23.89" fill="rgb(198,198,255)"/>
<rect x="565.90" y="487.90" width="23.89" height="23.89" fill="rgb(140,140,255)"/>
<g font-size="9.6" text-anchor="middle" fill="#000">
<g transform="translate(100.04,26) scale(1,1.041)"><text>1.00</text><g fill="rgb(140,140,255)"><path d="M-9.11 -1.42H-6.93V0.80H-9.11ZM-6.08 -1.42H-4.12V0.80H-6.08Z"/></g></g>
<text transform="translate(123.94,26) scale(1,1.041)">0</text>
<text transform="translate(147.82,26) scale(1,1.041)">0</text>
<text transform="translate(171.72,26) scale(1,1.041)">0</text>
<text transform="translate(195.60,26) scale(1,1.041)">0</text>
<text transform="translate(219.50,26) scale(1,1.041)">0</text>
<text transform="translate(243.38,26) scale(1,1.041)">0</text>
<text transform="translate(267.27,26) scale(1,1.041)">0</text>
<text transform="translate(291.16,26) scale(1,1.041)">0</text>
<text transform="translate(315.06,26) scale(1,1.041)">0</text>
<text transform="translate(338.94,26) scale(1,1.041)">0</text>
<text transform="translate(362.84,26) scale(1,1.041)">0</text>
<text transform="translate(386.73,26) scale(1,1.041)">0</text>
<text transform="translate(410.62,26) scale(1,1.041)">0</text>
<text transform="translate(434.50,26) scale(1,1.041)">0</text>
<text transform="translate(458.39,26) scale(1,1.041)">0</text>
<g transform="translate(482.28,26) scale(1,1.041)"><text>-0.14</text><g fill="rgb(206,206,255)"><path d="M0.48 -1.42H2.66V0.80H0.48ZM3.51 -1.42H5.47V0.80H3.51Z"/></g></g>
<text transform="translate(506.17,26) scale(1,1.041)">0.27</text>
<text transform="translate(530.07,26) scale(1,1.041)">0.06</text>
<text transform="translate(553.96,26) scale(1,1.041)">-0.03</text>
<g transform="translate(577.85,26) scale(1,1.041)"><text>0.01</text><g fill="rgb(197,197,255)"><path d="M4.22 -1.42H6.40V0.80H4.22ZM7.25 -1.42H9.20V0.80H7.25Z"/></g></g>
<text transform="translate(100.04,50) scale(1,1.041)">0</text>
<g transform="translate(123.94,50) scale(1,1.041)"><text>1.00</text><g fill="rgb(140,140,255)"><path d="M-9.11 -1.42H-6.93V0.80H-9.11ZM-6.08 -1.42H-4.12V0.80H-6.08Z"/></g></g>
<text transform="translate(147.82,50) scale(1,1.041)">0</text>
<text transform="translate(171.72,50) scale(1,1.041)">0</text>
<text transform="translate(195.60,50) scale(1,1.041)">0</text>
<text transform="translate(219.50,50) scale(1,1.041)">0</text>
<text transform="translate(243.38,50) scale(1,1.041)">0</text>
<text transform="translate(267.27,50) scale(1,1.041)">0</text>
<text transform="translate(291.16,50) scale(1,1.041)">0</text>
<text transform="translate(315.06,50) scale(1,1.041)">0</text>
<text transform="translate(338.94,50) scale(1,1.041)">0</text>
<text transform="translate(362.84,50) scale(1,1.041)">0</text>
<text transform="translate(386.73,50) scale(1,1.041)">0</text>
<text transform="translate(410.62,50) scale(1,1.041)">0</text>
<text transform="translate(434.50,50) scale(1,1.041)">0</text>
<text transform="translate(458.39,50) scale(1,1.041)">0</text>
<text transform="translate(482.28,50) scale(1,1.041)">-0.05</text>
<text transform="translate(506.17,50) scale(1,1.041)">-0.02</text>
<g transform="translate(530.07,50) scale(1,1.041)"><text>-0.14</text><g fill="rgb(206,206,255)"><path d="M0.48 -1.42H2.66V0.80H0.48ZM3.51 -1.42H5.47V0.80H3.51Z"/></g></g>
<g transform="translate(553.96,50) scale(1,1.041)"><text>-0.17</text><g fill="rgb(207,207,255)"><path d="M0.48 -1.42H2.66V0.80H0.48ZM3.51 -1.42H5.47V0.80H3.51Z"/></g></g>
<g transform="translate(577.85,50) scale(1,1.041)"><text>-0.11</text><g fill="rgb(204,204,255)"><path d="M0.48 -1.42H2.66V0.80H0.48ZM3.51 -1.42H5.47V0.80H3.51Z"/><path d="M5.83 -1.42H8.01V0.80H5.83ZM8.86 -1.42H10.81V0.80H8.86Z"/></g></g>
<text transform="translate(100.04,74) scale(1,1.041)">0</text>
<text transform="translate(123.94,74) scale(1,1.041)">0</text>
<g transform="translate(147.82,74) scale(1,1.041)"><text>1.00</text><g fill="rgb(140,140,255)"><path d="M-9.11 -1.42H-6.93V0.80H-9.11ZM-6.08 -1.42H-4.12V0.80H-6.08Z"/></g></g>
<text transform="translate(171.72,74) scale(1,1.041)">0</text>
<text transform="translate(195.60,74) scale(1,1.041)">0</text>
<text transform="translate(219.50,74) scale(1,1.041)">0</text>
<text transform="translate(243.38,74) scale(1,1.041)">0</text>
<text transform="translate(267.27,74) scale(1,1.041)">0</text>
<text transform="translate(291.16,74) scale(1,1.041)">0</text>
<text transform="translate(315.06,74) scale(1,1.041)">0</text>
<text transform="translate(338.94,74) scale(1,1.041)">0</text>
<text transform="translate(362.84,74) scale(1,1.041)">0</text>
<text transform="translate(386.73,74) scale(1,1.041)">0</text>
<text transform="translate(410.62,74) scale(1,1.041)">0</text>
<text transform="translate(434.50,74) scale(1,1.041)">0</text>
<text transform="translate(458.39,74) scale(1,1.041)">0</text>
<text transform="translate(482.28,74) scale(1,1.041)">-0.25</text>
<text transform="translate(506.17,74) scale(1,1.041)">0.04</text>
<g transform="translate(530.07,74) scale(1,1.041)"><text>-0.01</text><g fill="rgb(198,198,255)"><path d="M5.83 -1.42H8.01V0.80H5.83ZM8.86 -1.42H10.81V0.80H8.86Z"/></g></g>
<text transform="translate(553.96,74) scale(1,1.041)">-0.22</text>
<g transform="translate(577.85,74) scale(1,1.041)"><text>-0.12</text><g fill="rgb(204,204,255)"><path d="M0.48 -1.42H2.66V0.80H0.48ZM3.51 -1.42H5.47V0.80H3.51Z"/></g></g>
<text transform="translate(100.04,98) scale(1,1.041)">0</text>
<text transform="translate(123.94,98) scale(1,1.041)">0</text>
<text transform="translate(147.82,98) scale(1,1.041)">0</text>
<g transform="translate(171.72,98) scale(1,1.041)"><text>1.00</text><g fill="rgb(140,140,255)"><path d="M-9.11 -1.42H-6.93V0.80H-9.11ZM-6.08 -1.42H-4.12V0.80H-6.08Z"/></g></g>
<text transform="translate(195.60,98) scale(1,1.041)">0</text>
<text transform="translate(219.50,98) scale(1,1.041)">0</text>
<text transform="translate(243.38,98) scale(1,1.041)">0</text>
<text transform="translate(267.27,98) scale(1,1.041)">0</text>
<text transform="translate(291.16,98) scale(1,1.041)">0</text>
<text transform="translate(315.06,98) scale(1,1.041)">0</text>
<text transform="translate(338.94,98) scale(1,1.041)">0</text>
<text transform="translate(362.84,98) scale(1,1.041)">0</text>
<text transform="translate(386.73,98) scale(1,1.041)">0</text>
<text transform="translate(410.62,98) scale(1,1.041)">0</text>
<text transform="translate(434.50,98) scale(1,1.041)">0</text>
<text transform="translate(458.39,98) scale(1,1.041)">0</text>
<g transform="translate(482.28,98) scale(1,1.041)"><text>-0.16</text><g fill="rgb(207,207,255)"><path d="M0.48 -1.42H2.66V0.80H0.48ZM3.51 -1.42H5.47V0.80H3.51Z"/></g></g>
<text transform="translate(506.17,98) scale(1,1.041)">-0.07</text>
<text transform="translate(530.07,98) scale(1,1.041)">-0.28</text>
<text transform="translate(553.96,98) scale(1,1.041)">0.02</text>
<g transform="translate(577.85,98) scale(1,1.041)"><text>-0.15</text><g fill="rgb(206,206,255)"><path d="M0.48 -1.42H2.66V0.80H0.48ZM3.51 -1.42H5.47V0.80H3.51Z"/></g></g>
<text transform="translate(100.04,121) scale(1,1.041)">0</text>
<text transform="translate(123.94,121) scale(1,1.041)">0</text>
<text transform="translate(147.82,121) scale(1,1.041)">0</text>
<text transform="translate(171.72,121) scale(1,1.041)">0</text>
<g transform="translate(195.60,121) scale(1,1.041)"><text>1.00</text><g fill="rgb(140,140,255)"><path d="M-9.11 -1.42H-6.93V0.80H-9.11ZM-6.08 -1.42H-4.12V0.80H-6.08Z"/></g></g>
<text transform="translate(219.50,121) scale(1,1.041)">0</text>
<text transform="translate(243.38,121) scale(1,1.041)">0</text>
<text transform="translate(267.27,121) scale(1,1.041)">0</text>
<text transform="translate(291.16,121) scale(1,1.041)">0</text>
<text transform="translate(315.06,121) scale(1,1.041)">0</text>
<text transform="translate(338.94,121) scale(1,1.041)">0</text>
<text transform="translate(362.84,121) scale(1,1.041)">0</text>
<text transform="translate(386.73,121) scale(1,1.041)">0</text>
<text transform="translate(410.62,121) scale(1,1.041)">0</text>
<text transform="translate(434.50,121) scale(1,1.041)">0</text>
<text transform="translate(458.39,121) scale(1,1.041)">0</text>
<text transform="translate(482.28,121) scale(1,1.041)">-0.09</text>
<text transform="translate(506.17,121) scale(1,1.041)">0.39</text>
<text transform="translate(505.37,117) scale(1,1.041)" font-size="11.5">*</text>
<text transform="translate(530.07,121) scale(1,1.041)">0.06</text>
<g transform="translate(553.96,121) scale(1,1.041)"><text>-0.01</text><g fill="rgb(198,198,255)"><path d="M5.83 -1.42H8.01V0.80H5.83ZM8.86 -1.42H10.81V0.80H8.86Z"/></g></g>
<text transform="translate(577.85,121) scale(1,1.041)">-0.32</text>
<text transform="translate(100.04,145) scale(1,1.041)">0</text>
<text transform="translate(123.94,145) scale(1,1.041)">0</text>
<text transform="translate(147.82,145) scale(1,1.041)">0</text>
<text transform="translate(171.72,145) scale(1,1.041)">0</text>
<text transform="translate(195.60,145) scale(1,1.041)">0</text>
<g transform="translate(219.50,145) scale(1,1.041)"><text>1.00</text><g fill="rgb(140,140,255)"><path d="M-9.11 -1.42H-6.93V0.80H-9.11ZM-6.08 -1.42H-4.12V0.80H-6.08Z"/></g></g>
<text transform="translate(243.38,145) scale(1,1.041)">0</text>
<text transform="translate(267.27,145) scale(1,1.041)">0</text>
<text transform="translate(291.16,145) scale(1,1.041)">0</text>
<text transform="translate(315.06,145) scale(1,1.041)">0</text>
<text transform="translate(338.94,145) scale(1,1.041)">0</text>
<text transform="translate(362.84,145) scale(1,1.041)">0</text>
<text transform="translate(386.73,145) scale(1,1.041)">0</text>
<text transform="translate(410.62,145) scale(1,1.041)">0</text>
<text transform="translate(434.50,145) scale(1,1.041)">0</text>
<text transform="translate(458.39,145) scale(1,1.041)">0</text>
<text transform="translate(482.28,145) scale(1,1.041)">-0.07</text>
<text transform="translate(506.17,145) scale(1,1.041)">-0.02</text>
<g transform="translate(530.07,145) scale(1,1.041)"><text>-0.16</text><g fill="rgb(207,207,255)"><path d="M0.48 -1.42H2.66V0.80H0.48ZM3.51 -1.42H5.47V0.80H3.51Z"/></g></g>
<g transform="translate(553.96,145) scale(1,1.041)"><text>-0.13</text><g fill="rgb(205,205,255)"><path d="M0.48 -1.42H2.66V0.80H0.48ZM3.51 -1.42H5.47V0.80H3.51Z"/></g></g>
<g transform="translate(577.85,145) scale(1,1.041)"><text>-0.18</text><g fill="rgb(208,208,255)"><path d="M0.48 -1.42H2.66V0.80H0.48ZM3.51 -1.42H5.47V0.80H3.51Z"/></g></g>
<text transform="translate(100.04,169) scale(1,1.041)">0</text>
<text transform="translate(123.94,169) scale(1,1.041)">0</text>
<text transform="translate(147.82,169) scale(1,1.041)">0</text>
<text transform="translate(171.72,169) scale(1,1.041)">0</text>
<text transform="translate(195.60,169) scale(1,1.041)">0</text>
<text transform="translate(219.50,169) scale(1,1.041)">0</text>
<g transform="translate(243.38,169) scale(1,1.041)"><text>1.00</text><g fill="rgb(140,140,255)"><path d="M-9.11 -1.42H-6.93V0.80H-9.11ZM-6.08 -1.42H-4.12V0.80H-6.08Z"/></g></g>
<text transform="translate(267.27,169) scale(1,1.041)">0</text>
<text transform="translate(291.16,169) scale(1,1.041)">0</text>
<text transform="translate(315.06,169) scale(1,1.041)">0</text>
<text transform="translate(338.94,169) scale(1,1.041)">0</text>
<text transform="translate(362.84,169) scale(1,1.041)">0</text>
<text transform="translate(386.73,169) scale(1,1.041)">0</text>
<text transform="translate(410.62,169) scale(1,1.041)">0</text>
<text transform="translate(434.50,169) scale(1,1.041)">0</text>
<text transform="translate(458.39,169) scale(1,1.041)">0</text>
<text transform="translate(482.28,169) scale(1,1.041)">0.23</text>
<text transform="translate(506.17,169) scale(1,1.041)">0.20</text>
<text transform="translate(530.07,169) scale(1,1.041)">0.36</text>
<text transform="translate(553.96,169) scale(1,1.041)">-0.20</text>
<g transform="translate(577.85,169) scale(1,1.041)"><text>-0.41</text><g fill="rgb(221,221,255)"><path d="M5.83 -1.42H8.01V0.80H5.83ZM8.86 -1.42H10.81V0.80H8.86Z"/></g></g>
<text transform="translate(577.35,165) scale(1,1.041)" font-size="11.5">*</text>
<text transform="translate(100.04,193) scale(1,1.041)">0</text>
<text transform="translate(123.94,193) scale(1,1.041)">0</text>
<text transform="translate(147.82,193) scale(1,1.041)">0</text>
<text transform="translate(171.72,193) scale(1,1.041)">0</text>
<text transform="translate(195.60,193) scale(1,1.041)">0</text>
<text transform="translate(219.50,193) scale(1,1.041)">0</text>
<text transform="translate(243.38,193) scale(1,1.041)">0</text>
<g transform="translate(267.27,193) scale(1,1.041)"><text>1.00</text><g fill="rgb(140,140,255)"><path d="M-9.11 -1.42H-6.93V0.80H-9.11ZM-6.08 -1.42H-4.12V0.80H-6.08Z"/></g></g>
<text transform="translate(291.16,193) scale(1,1.041)">0</text>
<text transform="translate(315.06,193) scale(1,1.041)">0</text>
<text transform="translate(338.94,193) scale(1,1.041)">0</text>
<text transform="translate(362.84,193) scale(1,1.041)">0</text>
<text transform="translate(386.73,193) scale(1,1.041)">0</text>
<text transform="translate(410.62,193) scale(1,1.041)">0</text>
<text transform="translate(434.50,193) scale(1,1.041)">0</text>
<text transform="translate(458.39,193) scale(1,1.041)">0</text>
<text transform="translate(482.28,193) scale(1,1.041)">0.07</text>
<text transform="translate(506.17,193) scale(1,1.041)">0.38</text>
<text transform="translate(530.07,193) scale(1,1.041)">-0.05</text>
<text transform="translate(553.96,193) scale(1,1.041)">0.28</text>
<text transform="translate(577.85,193) scale(1,1.041)">-0.37</text>
<text transform="translate(577.35,189) scale(1,1.041)" font-size="11.5">*</text>
<text transform="translate(100.04,217) scale(1,1.041)">0</text>
<text transform="translate(123.94,217) scale(1,1.041)">0</text>
<text transform="translate(147.82,217) scale(1,1.041)">0</text>
<text transform="translate(171.72,217) scale(1,1.041)">0</text>
<text transform="translate(195.60,217) scale(1,1.041)">0</text>
<text transform="translate(219.50,217) scale(1,1.041)">0</text>
<text transform="translate(243.38,217) scale(1,1.041)">0</text>
<text transform="translate(267.27,217) scale(1,1.041)">0</text>
<g transform="translate(291.16,217) scale(1,1.041)"><text>1.00</text><g fill="rgb(140,140,255)"><path d="M-9.11 -1.42H-6.93V0.80H-9.11ZM-6.08 -1.42H-4.12V0.80H-6.08Z"/></g></g>
<text transform="translate(315.06,217) scale(1,1.041)">0</text>
<text transform="translate(338.94,217) scale(1,1.041)">0</text>
<text transform="translate(362.84,217) scale(1,1.041)">0</text>
<text transform="translate(386.73,217) scale(1,1.041)">0</text>
<text transform="translate(410.62,217) scale(1,1.041)">0</text>
<text transform="translate(434.50,217) scale(1,1.041)">0</text>
<text transform="translate(458.39,217) scale(1,1.041)">0</text>
<text transform="translate(482.28,217) scale(1,1.041)">-0.30</text>
<g transform="translate(506.17,217) scale(1,1.041)"><text>0.21</text><g fill="rgb(185,185,255)"><path d="M4.22 -1.42H6.40V0.80H4.22ZM7.25 -1.42H9.20V0.80H7.25Z"/></g></g>
<text transform="translate(530.07,217) scale(1,1.041)">-0.02</text>
<text transform="translate(553.96,217) scale(1,1.041)">0.03</text>
<g transform="translate(577.85,217) scale(1,1.041)"><text>-0.31</text><g fill="rgb(215,215,255)"><path d="M5.83 -1.42H8.01V0.80H5.83ZM8.86 -1.42H10.81V0.80H8.86Z"/></g></g>
<text transform="translate(100.04,241) scale(1,1.041)">0</text>
<text transform="translate(123.94,241) scale(1,1.041)">0</text>
<text transform="translate(147.82,241) scale(1,1.041)">0</text>
<text transform="translate(171.72,241) scale(1,1.041)">0</text>
<text transform="translate(195.60,241) scale(1,1.041)">0</text>
<text transform="translate(219.50,241) scale(1,1.041)">0</text>
<text transform="translate(243.38,241) scale(1,1.041)">0</text>
<text transform="translate(267.27,241) scale(1,1.041)">0</text>
<text transform="translate(291.16,241) scale(1,1.041)">0</text>
<g transform="translate(315.06,241) scale(1,1.041)"><text>1.00</text><g fill="rgb(140,140,255)"><path d="M-9.11 -1.42H-6.93V0.80H-9.11ZM-6.08 -1.42H-4.12V0.80H-6.08Z"/></g></g>
<text transform="translate(338.94,241) scale(1,1.041)">0</text>
<text transform="translate(362.84,241) scale(1,1.041)">0</text>
<text transform="translate(386.73,241) scale(1,1.041)">0</text>
<text transform="translate(410.62,241) scale(1,1.041)">0</text>
<text transform="translate(434.50,241) scale(1,1.041)">0</text>
<text transform="translate(458.39,241) scale(1,1.041)">0</text>
<text transform="translate(482.28,241) scale(1,1.041)">0.07</text>
<text transform="translate(506.17,241) scale(1,1.041)">-0.07</text>
<g transform="translate(530.07,241) scale(1,1.041)"><text>-0.01</text><g fill="rgb(198,198,255)"><path d="M5.83 -1.42H8.01V0.80H5.83ZM8.86 -1.42H10.81V0.80H8.86Z"/></g></g>
<text transform="translate(553.96,241) scale(1,1.041)">-0.08</text>
<text transform="translate(577.85,241) scale(1,1.041)">0.08</text>
<text transform="translate(100.04,264) scale(1,1.041)">0</text>
<text transform="translate(123.94,264) scale(1,1.041)">0</text>
<text transform="translate(147.82,264) scale(1,1.041)">0</text>
<text transform="translate(171.72,264) scale(1,1.041)">0</text>
<text transform="translate(195.60,264) scale(1,1.041)">0</text>
<text transform="translate(219.50,264) scale(1,1.041)">0</text>
<text transform="translate(243.38,264) scale(1,1.041)">0</text>
<text transform="translate(267.27,264) scale(1,1.041)">0</text>
<text transform="translate(291.16,264) scale(1,1.041)">0</text>
<text transform="translate(315.06,264) scale(1,1.041)">0</text>
<g transform="translate(338.94,264) scale(1,1.041)"><text>1.00</text><g fill="rgb(140,140,255)"><path d="M-9.11 -1.42H-6.93V0.80H-9.11ZM-6.08 -1.42H-4.12V0.80H-6.08Z"/></g></g>
<text transform="translate(362.84,264) scale(1,1.041)">0</text>
<text transform="translate(386.73,264) scale(1,1.041)">0</text>
<text transform="translate(410.62,264) scale(1,1.041)">0</text>
<text transform="translate(434.50,264) scale(1,1.041)">0</text>
<text transform="translate(458.39,264) scale(1,1.041)">0</text>
<text transform="translate(482.28,264) scale(1,1.041)">0.03</text>
<text transform="translate(506.17,264) scale(1,1.041)">0.24</text>
<g transform="translate(530.07,264) scale(1,1.041)"><text>0.15</text><g fill="rgb(189,189,255)"><path d="M-1.11 -1.42H1.07V0.80H-1.11ZM1.92 -1.42H3.88V0.80H1.92Z"/></g></g>
<g transform="translate(553.96,264) scale(1,1.041)"><text>-0.21</text><g fill="rgb(210,210,255)"><path d="M5.83 -1.42H8.01V0.80H5.83ZM8.86 -1.42H10.81V0.80H8.86Z"/></g></g>
<text transform="translate(577.85,264) scale(1,1.041)">0.02</text>
<text transform="translate(100.04,288) scale(1,1.041)">0</text>
<text transform="translate(123.94,288) scale(1,1.041)">0</text>
<text transform="translate(147.82,288) scale(1,1.041)">0</text>
<text transform="translate(171.72,288) scale(1,1.041)">0</text>
<text transform="translate(195.60,288) scale(1,1.041)">0</text>
<text transform="translate(219.50,288) scale(1,1.041)">0</text>
<text transform="translate(243.38,288) scale(1,1.041)">0</text>
<text transform="translate(267.27,288) scale(1,1.041)">0</text>
<text transform="translate(291.16,288) scale(1,1.041)">0</text>
<text transform="translate(315.06,288) scale(1,1.041)">0</text>
<text transform="translate(338.94,288) scale(1,1.041)">0</text>
<g transform="translate(362.84,288) scale(1,1.041)"><text>1.00</text><g fill="rgb(140,140,255)"><path d="M-9.11 -1.42H-6.93V0.80H-9.11ZM-6.08 -1.42H-4.12V0.80H-6.08Z"/></g></g>
<text transform="translate(386.73,288) scale(1,1.041)">0</text>
<text transform="translate(410.62,288) scale(1,1.041)">0</text>
<text transform="translate(434.50,288) scale(1,1.041)">0</text>
<text transform="translate(458.39,288) scale(1,1.041)">0</text>
<g transform="translate(482.28,288) scale(1,1.041)"><text>-0.01</text><g fill="rgb(198,198,255)"><path d="M5.83 -1.42H8.01V0.80H5.83ZM8.86 -1.42H10.81V0.80H8.86Z"/></g></g>
<text transform="translate(506.17,288) scale(1,1.041)">-0.09</text>
<text transform="translate(530.07,288) scale(1,1.041)">0.03</text>
<text transform="translate(553.96,288) scale(1,1.041)">0.39</text>
<text transform="translate(553.16,284) scale(1,1.041)" font-size="11.5">*</text>
<text transform="translate(577.85,288) scale(1,1.041)">-0.06</text>
<text transform="translate(100.04,312) scale(1,1.041)">0</text>
<text transform="translate(123.94,312) scale(1,1.041)">0</text>
<text transform="translate(147.82,312) scale(1,1.041)">0</text>
<text transform="translate(171.72,312) scale(1,1.041)">0</text>
<text transform="translate(195.60,312) scale(1,1.041)">0</text>
<text transform="translate(219.50,312) scale(1,1.041)">0</text>
<text transform="translate(243.38,312) scale(1,1.041)">0</text>
<text transform="translate(267.27,312) scale(1,1.041)">0</text>
<text transform="translate(291.16,312) scale(1,1.041)">0</text>
<text transform="translate(315.06,312) scale(1,1.041)">0</text>
<text transform="translate(338.94,312) scale(1,1.041)">0</text>
<text transform="translate(362.84,312) scale(1,1.041)">0</text>
<g transform="translate(386.73,312) scale(1,1.041)"><text>1.00</text><g fill="rgb(140,140,255)"><path d="M-9.11 -1.42H-6.93V0.80H-9.11ZM-6.08 -1.42H-4.12V0.80H-6.08Z"/></g></g>
<text transform="translate(410.62,312) scale(1,1.041)">0</text>
<text transform="translate(434.50,312) scale(1,1.041)">0</text>
<text transform="translate(458.39,312) scale(1,1.041)">0</text>
<g transform="translate(482.28,312) scale(1,1.041)"><text>-0.18</text><g fill="rgb(208,208,255)"><path d="M0.48 -1.42H2.66V0.80H0.48ZM3.51 -1.42H5.47V0.80H3.51Z"/></g></g>
<text transform="translate(506.17,312) scale(1,1.041)">0.08</text>
<g transform="translate(530.07,312) scale(1,1.041)"><text>0.13</text><g fill="rgb(190,190,255)"><path d="M-1.11 -1.42H1.07V0.80H-1.11ZM1.92 -1.42H3.88V0.80H1.92Z"/></g></g>
<text transform="translate(553.96,312) scale(1,1.041)">-0.24</text>
<g transform="translate(577.85,312) scale(1,1.041)"><text>-0.13</text><g fill="rgb(205,205,255)"><path d="M0.48 -1.42H2.66V0.80H0.48ZM3.51 -1.42H5.47V0.80H3.51Z"/></g></g>
<text transform="translate(100.04,336) scale(1,1.041)">0</text>
<text transform="translate(123.94,336) scale(1,1.041)">0</text>
<text transform="translate(147.82,336) scale(1,1.041)">0</text>
<text transform="translate(171.72,336) scale(1,1.041)">0</text>
<text transform="translate(195.60,336) scale(1,1.041)">0</text>
<text transform="translate(219.50,336) scale(1,1.041)">0</text>
<text transform="translate(243.38,336) scale(1,1.041)">0</text>
<text transform="translate(267.27,336) scale(1,1.041)">0</text>
<text transform="translate(291.16,336) scale(1,1.041)">0</text>
<text transform="translate(315.06,336) scale(1,1.041)">0</text>
<text transform="translate(338.94,336) scale(1,1.041)">0</text>
<text transform="translate(362.84,336) scale(1,1.041)">0</text>
<text transform="translate(386.73,336) scale(1,1.041)">0</text>
<g transform="translate(410.62,336) scale(1,1.041)"><text>1.00</text><g fill="rgb(140,140,255)"><path d="M-9.11 -1.42H-6.93V0.80H-9.11ZM-6.08 -1.42H-4.12V0.80H-6.08Z"/></g></g>
<text transform="translate(434.50,336) scale(1,1.041)">0</text>
<text transform="translate(458.39,336) scale(1,1.041)">0</text>
<g transform="translate(482.28,336) scale(1,1.041)"><text>0.11</text><g fill="rgb(191,191,255)"><path d="M-1.11 -1.42H1.07V0.80H-1.11ZM1.92 -1.42H3.88V0.80H1.92Z"/><path d="M4.22 -1.42H6.40V0.80H4.22ZM7.25 -1.42H9.20V0.80H7.25Z"/></g></g>
<text transform="translate(506.17,336) scale(1,1.041)">0.23</text>
<text transform="translate(530.07,336) scale(1,1.041)">-0.25</text>
<g transform="translate(553.96,336) scale(1,1.041)"><text>0.10</text><g fill="rgb(192,192,255)"><path d="M-1.11 -1.42H1.07V0.80H-1.11ZM1.92 -1.42H3.88V0.80H1.92Z"/></g></g>
<g transform="translate(577.85,336) scale(1,1.041)"><text>-0.17</text><g fill="rgb(207,207,255)"><path d="M0.48 -1.42H2.66V0.80H0.48ZM3.51 -1.42H5.47V0.80H3.51Z"/></g></g>
<text transform="translate(100.04,360) scale(1,1.041)">0</text>
<text transform="translate(123.94,360) scale(1,1.041)">0</text>
<text transform="translate(147.82,360) scale(1,1.041)">0</text>
<text transform="translate(171.72,360) scale(1,1.041)">0</text>
<text transform="translate(195.60,360) scale(1,1.041)">0</text>
<text transform="translate(219.50,360) scale(1,1.041)">0</text>
<text transform="translate(243.38,360) scale(1,1.041)">0</text>
<text transform="translate(267.27,360) scale(1,1.041)">0</text>
<text transform="translate(291.16,360) scale(1,1.041)">0</text>
<text transform="translate(315.06,360) scale(1,1.041)">0</text>
<text transform="translate(338.94,360) scale(1,1.041)">0</text>
<text transform="translate(362.84,360) scale(1,1.041)">0</text>
<text transform="translate(386.73,360) scale(1,1.041)">0</text>
<text transform="translate(410.62,360) scale(1,1.041)">0</text>
<g transform="translate(434.50,360) scale(1,1.041)"><text>1.00</text><g fill="rgb(140,140,255)"><path d="M-9.11 -1.42H-6.93V0.80H-9.11ZM-6.08 -1.42H-4.12V0.80H-6.08Z"/></g></g>
<text transform="translate(458.39,360) scale(1,1.041)">0</text>
<g transform="translate(482.28,360) scale(1,1.041)"><text>-0.14</text><g fill="rgb(206,206,255)"><path d="M0.48 -1.42H2.66V0.80H0.48ZM3.51 -1.42H5.47V0.80H3.51Z"/></g></g>
<g transform="translate(506.17,360) scale(1,1.041)"><text>-0.14</text><g fill="rgb(206,206,255)"><path d="M0.48 -1.42H2.66V0.80H0.48ZM3.51 -1.42H5.47V0.80H3.51Z"/></g></g>
<text transform="translate(530.07,360) scale(1,1.041)">0.07</text>
<text transform="translate(553.96,360) scale(1,1.041)">0.46</text>
<text transform="translate(553.16,356) scale(1,1.041)" font-size="11.5">*</text>
<g transform="translate(577.85,360) scale(1,1.041)"><text>-0.14</text><g fill="rgb(206,206,255)"><path d="M0.48 -1.42H2.66V0.80H0.48ZM3.51 -1.42H5.47V0.80H3.51Z"/></g></g>
<text transform="translate(100.04,384) scale(1,1.041)">0</text>
<text transform="translate(123.94,384) scale(1,1.041)">0</text>
<text transform="translate(147.82,384) scale(1,1.041)">0</text>
<text transform="translate(171.72,384) scale(1,1.041)">0</text>
<text transform="translate(195.60,384) scale(1,1.041)">0</text>
<text transform="translate(219.50,384) scale(1,1.041)">0</text>
<text transform="translate(243.38,384) scale(1,1.041)">0</text>
<text transform="translate(267.27,384) scale(1,1.041)">0</text>
<text transform="translate(291.16,384) scale(1,1.041)">0</text>
<text transform="translate(315.06,384) scale(1,1.041)">0</text>
<text transform="translate(338.94,384) scale(1,1.041)">0</text>
<text transform="translate(362.84,384) scale(1,1.041)">0</text>
<text transform="translate(386.73,384) scale(1,1.041)">0</text>
<text transform="translate(410.62,384) scale(1,1.041)">0</text>
<text transform="translate(434.50,384) scale(1,1.041)">0</text>
<g transform="translate(458.39,384) scale(1,1.041)"><text>1.00</text><g fill="rgb(140,140,255)"><path d="M-9.11 -1.42H-6.93V0.80H-9.11ZM-6.08 -1.42H-4.12V0.80H-6.08Z"/></g></g>
<g transform="translate(482.28,384) scale(1,1.041)"><text>0.21</text><g fill="rgb(185,185,255)"><path d="M4.22 -1.42H6.40V0.80H4.22ZM7.25 -1.42H9.20V0.80H7.25Z"/></g></g>
<text transform="translate(506.17,384) scale(1,1.041)">0.34</text>
<text transform="translate(530.07,384) scale(1,1.041)">-0.30</text>
<text transform="translate(553.96,384) scale(1,1.041)">-0.05</text>
<text transform="translate(577.85,384) scale(1,1.041)">-0.35</text>
<g transform="translate(100.04,408) scale(1,1.041)"><text>-0.14</text><g fill="rgb(206,206,255)"><path d="M0.48 -1.42H2.66V0.80H0.48ZM3.51 -1.42H5.47V0.80H3.51Z"/></g></g>
<text transform="translate(123.94,408) scale(1,1.041)">-0.05</text>
<text transform="translate(147.82,408) scale(1,1.041)">-0.25</text>
<g transform="translate(171.72,408) scale(1,1.041)"><text>-0.16</text><g fill="rgb(207,207,255)"><path d="M0.48 -1.42H2.66V0.80H0.48ZM3.51 -1.42H5.47V0.80H3.51Z"/></g></g>
<text transform="translate(195.60,408) scale(1,1.041)">-0.09</text>
<text transform="translate(219.50,408) scale(1,1.041)">-0.07</text>
<text transform="translate(243.38,408) scale(1,1.041)">0.23</text>
<text transform="translate(267.27,408) scale(1,1.041)">0.07</text>
<text transform="translate(291.16,408) scale(1,1.041)">-0.30</text>
<text transform="translate(315.06,408) scale(1,1.041)">0.07</text>
<text transform="translate(338.94,408) scale(1,1.041)">0.03</text>
<g transform="translate(362.84,408) scale(1,1.041)"><text>-0.01</text><g fill="rgb(198,198,255)"><path d="M5.83 -1.42H8.01V0.80H5.83ZM8.86 -1.42H10.81V0.80H8.86Z"/></g></g>
<g transform="translate(386.73,408) scale(1,1.041)"><text>-0.18</text><g fill="rgb(208,208,255)"><path d="M0.48 -1.42H2.66V0.80H0.48ZM3.51 -1.42H5.47V0.80H3.51Z"/></g></g>
<g transform="translate(410.62,408) scale(1,1.041)"><text>0.11</text><g fill="rgb(191,191,255)"><path d="M-1.11 -1.42H1.07V0.80H-1.11ZM1.92 -1.42H3.88V0.80H1.92Z"/><path d="M4.22 -1.42H6.40V0.80H4.22ZM7.25 -1.42H9.20V0.80H7.25Z"/></g></g>
<g transform="translate(434.50,408) scale(1,1.041)"><text>-0.14</text><g fill="rgb(206,206,255)"><path d="M0.48 -1.42H2.66V0.80H0.48ZM3.51 -1.42H5.47V0.80H3.51Z"/></g></g>
<g transform="translate(458.39,408) scale(1,1.041)"><text>0.21</text><g fill="rgb(185,185,255)"><path d="M4.22 -1.42H6.40V0.80H4.22ZM7.25 -1.42H9.20V0.80H7.25Z"/></g></g>
<g transform="translate(482.28,408) scale(1,1.041)"><text>1.00</text><g fill="rgb(140,140,255)"><path d="M-9.11 -1.42H-6.93V0.80H-9.11ZM-6.08 -1.42H-4.12V0.80H-6.08Z"/></g></g>
<text transform="translate(506.17,408) scale(1,1.041)">0</text>
<text transform="translate(530.07,408) scale(1,1.041)">0</text>
<text transform="translate(553.96,408) scale(1,1.041)">0</text>
<text transform="translate(577.85,408) scale(1,1.041)">0</text>
<text transform="translate(100.04,431) scale(1,1.041)">0.27</text>
<text transform="translate(123.94,431) scale(1,1.041)">-0.02</text>
<text transform="translate(147.82,431) scale(1,1.041)">0.04</text>
<text transform="translate(171.72,431) scale(1,1.041)">-0.07</text>
<text transform="translate(195.60,431) scale(1,1.041)">0.39</text>
<text transform="translate(194.80,427) scale(1,1.041)" font-size="11.5">*</text>
<text transform="translate(219.50,431) scale(1,1.041)">-0.02</text>
<text transform="translate(243.38,431) scale(1,1.041)">0.20</text>
<text transform="translate(267.27,431) scale(1,1.041)">0.38</text>
<g transform="translate(291.16,431) scale(1,1.041)"><text>0.21</text><g fill="rgb(185,185,255)"><path d="M4.22 -1.42H6.40V0.80H4.22ZM7.25 -1.42H9.20V0.80H7.25Z"/></g></g>
<text transform="translate(315.06,431) scale(1,1.041)">-0.07</text>
<text transform="translate(338.94,431) scale(1,1.041)">0.24</text>
<text transform="translate(362.84,431) scale(1,1.041)">-0.09</text>
<text transform="translate(386.73,431) scale(1,1.041)">0.08</text>
<text transform="translate(410.62,431) scale(1,1.041)">0.23</text>
<g transform="translate(434.50,431) scale(1,1.041)"><text>-0.14</text><g fill="rgb(206,206,255)"><path d="M0.48 -1.42H2.66V0.80H0.48ZM3.51 -1.42H5.47V0.80H3.51Z"/></g></g>
<text transform="translate(458.39,431) scale(1,1.041)">0.34</text>
<text transform="translate(482.28,431) scale(1,1.041)">0</text>
<g transform="translate(506.17,431) scale(1,1.041)"><text>1.00</text><g fill="rgb(140,140,255)"><path d="M-9.11 -1.42H-6.93V0.80H-9.11ZM-6.08 -1.42H-4.12V0.80H-6.08Z"/></g></g>
<text transform="translate(530.07,431) scale(1,1.041)">0</text>
<text transform="translate(553.96,431) scale(1,1.041)">0</text>
<text transform="translate(577.85,431) scale(1,1.041)">0</text>
<text transform="translate(100.04,455) scale(1,1.041)">0.06</text>
<g transform="translate(123.94,455) scale(1,1.041)"><text>-0.14</text><g fill="rgb(206,206,255)"><path d="M0.48 -1.42H2.66V0.80H0.48ZM3.51 -1.42H5.47V0.80H3.51Z"/></g></g>
<g transform="translate(147.82,455) scale(1,1.041)"><text>-0.01</text><g fill="rgb(198,198,255)"><path d="M5.83 -1.42H8.01V0.80H5.83ZM8.86 -1.42H10.81V0.80H8.86Z"/></g></g>
<text transform="translate(171.72,455) scale(1,1.041)">-0.28</text>
<text transform="translate(195.60,455) scale(1,1.041)">0.06</text>
<g transform="translate(219.50,455) scale(1,1.041)"><text>-0.16</text><g fill="rgb(207,207,255)"><path d="M0.48 -1.42H2.66V0.80H0.48ZM3.51 -1.42H5.47V0.80H3.51Z"/></g></g>
<text transform="translate(243.38,455) scale(1,1.041)">0.36</text>
<text transform="translate(267.27,455) scale(1,1.041)">-0.05</text>
<text transform="translate(291.16,455) scale(1,1.041)">-0.02</text>
<g transform="translate(315.06,455) scale(1,1.041)"><text>-0.01</text><g fill="rgb(198,198,255)"><path d="M5.83 -1.42H8.01V0.80H5.83ZM8.86 -1.42H10.81V0.80H8.86Z"/></g></g>
<g transform="translate(338.94,455) scale(1,1.041)"><text>0.15</text><g fill="rgb(189,189,255)"><path d="M-1.11 -1.42H1.07V0.80H-1.11ZM1.92 -1.42H3.88V0.80H1.92Z"/></g></g>
<text transform="translate(362.84,455) scale(1,1.041)">0.03</text>
<g transform="translate(386.73,455) scale(1,1.041)"><text>0.13</text><g fill="rgb(190,190,255)"><path d="M-1.11 -1.42H1.07V0.80H-1.11ZM1.92 -1.42H3.88V0.80H1.92Z"/></g></g>
<text transform="translate(410.62,455) scale(1,1.041)">-0.25</text>
<text transform="translate(434.50,455) scale(1,1.041)">0.07</text>
<text transform="translate(458.39,455) scale(1,1.041)">-0.30</text>
<text transform="translate(482.28,455) scale(1,1.041)">0</text>
<text transform="translate(506.17,455) scale(1,1.041)">0</text>
<g transform="translate(530.07,455) scale(1,1.041)"><text>1.00</text><g fill="rgb(140,140,255)"><path d="M-9.11 -1.42H-6.93V0.80H-9.11ZM-6.08 -1.42H-4.12V0.80H-6.08Z"/></g></g>
<text transform="translate(553.96,455) scale(1,1.041)">0</text>
<text transform="translate(577.85,455) scale(1,1.041)">0</text>
<text transform="translate(100.04,479) scale(1,1.041)">-0.03</text>
<g transform="translate(123.94,479) scale(1,1.041)"><text>-0.17</text><g fill="rgb(207,207,255)"><path d="M0.48 -1.42H2.66V0.80H0.48ZM3.51 -1.42H5.47V0.80H3.51Z"/></g></g>
<text transform="translate(147.82,479) scale(1,1.041)">-0.22</text>
<text transform="translate(171.72,479) scale(1,1.041)">0.02</text>
<g transform="translate(195.60,479) scale(1,1.041)"><text>-0.01</text><g fill="rgb(198,198,255)"><path d="M5.83 -1.42H8.01V0.80H5.83ZM8.86 -1.42H10.81V0.80H8.86Z"/></g></g>
<g transform="translate(219.50,479) scale(1,1.041)"><text>-0.13</text><g fill="rgb(205,205,255)"><path d="M0.48 -1.42H2.66V0.80H0.48ZM3.51 -1.42H5.47V0.80H3.51Z"/></g></g>
<text transform="translate(243.38,479) scale(1,1.041)">-0.20</text>
<text transform="translate(267.27,479) scale(1,1.041)">0.28</text>
<text transform="translate(291.16,479) scale(1,1.041)">0.03</text>
<text transform="translate(315.06,479) scale(1,1.041)">-0.08</text>
<g transform="translate(338.94,479) scale(1,1.041)"><text>-0.21</text><g fill="rgb(210,210,255)"><path d="M5.83 -1.42H8.01V0.80H5.83ZM8.86 -1.42H10.81V0.80H8.86Z"/></g></g>
<text transform="translate(362.84,479) scale(1,1.041)">0.39</text>
<text transform="translate(362.04,475) scale(1,1.041)" font-size="11.5">*</text>
<text transform="translate(386.73,479) scale(1,1.041)">-0.24</text>
<g transform="translate(410.62,479) scale(1,1.041)"><text>0.10</text><g fill="rgb(192,192,255)"><path d="M-1.11 -1.42H1.07V0.80H-1.11ZM1.92 -1.42H3.88V0.80H1.92Z"/></g></g>
<text transform="translate(434.50,479) scale(1,1.041)">0.46</text>
<text transform="translate(433.70,475) scale(1,1.041)" font-size="11.5">*</text>
<text transform="translate(458.39,479) scale(1,1.041)">-0.05</text>
<text transform="translate(482.28,479) scale(1,1.041)">0</text>
<text transform="translate(506.17,479) scale(1,1.041)">0</text>
<text transform="translate(530.07,479) scale(1,1.041)">0</text>
<g transform="translate(553.96,479) scale(1,1.041)"><text>1.00</text><g fill="rgb(140,140,255)"><path d="M-9.11 -1.42H-6.93V0.80H-9.11ZM-6.08 -1.42H-4.12V0.80H-6.08Z"/></g></g>
<text transform="translate(577.85,479) scale(1,1.041)">0</text>
<g transform="translate(100.04,503) scale(1,1.041)"><text>0.01</text><g fill="rgb(197,197,255)"><path d="M4.22 -1.42H6.40V0.80H4.22ZM7.25 -1.42H9.20V0.80H7.25Z"/></g></g>
<g transform="translate(123.94,503) scale(1,1.041)"><text>-0.11</text><g fill="rgb(204,204,255)"><path d="M0.48 -1.42H2.66V0.80H0.48ZM3.51 -1.42H5.47V0.80H3.51Z"/><path d="M5.83 -1.42H8.01V0.80H5.83ZM8.86 -1.42H10.81V0.80H8.86Z"/></g></g>
<g transform="translate(147.82,503) scale(1,1.041)"><text>-0.12</text><g fill="rgb(204,204,255)"><path d="M0.48 -1.42H2.66V0.80H0.48ZM3.51 -1.42H5.47V0.80H3.51Z"/></g></g>
<g transform="translate(171.72,503) scale(1,1.041)"><text>-0.15</text><g fill="rgb(206,206,255)"><path d="M0.48 -1.42H2.66V0.80H0.48ZM3.51 -1.42H5.47V0.80H3.51Z"/></g></g>
<text transform="translate(195.60,503) scale(1,1.041)">-0.32</text>
<g transform="translate(219.50,503) scale(1,1.041)"><text>-0.18</text><g fill="rgb(208,208,255)"><path d="M0.48 -1.42H2.66V0.80H0.48ZM3.51 -1.42H5.47V0.80H3.51Z"/></g></g>
<g transform="translate(243.38,503) scale(1,1.041)"><text>-0.41</text><g fill="rgb(221,221,255)"><path d="M5.83 -1.42H8.01V0.80H5.83ZM8.86 -1.42H10.81V0.80H8.86Z"/></g></g>
<text transform="translate(242.88,499) scale(1,1.041)" font-size="11.5">*</text>
<text transform="translate(267.27,503) scale(1,1.041)">-0.37</text>
<text transform="translate(266.77,499) scale(1,1.041)" font-size="11.5">*</text>
<g transform="translate(291.16,503) scale(1,1.041)"><text>-0.31</text><g fill="rgb(215,215,255)"><path d="M5.83 -1.42H8.01V0.80H5.83ZM8.86 -1.42H10.81V0.80H8.86Z"/></g></g>
<text transform="translate(315.06,503) scale(1,1.041)">0.08</text>
<text transform="translate(338.94,503) scale(1,1.041)">0.02</text>
<text transform="translate(362.84,503) scale(1,1.041)">-0.06</text>
<g transform="translate(386.73,503) scale(1,1.041)"><text>-0.13</text><g fill="rgb(205,205,255)"><path d="M0.48 -1.42H2.66V0.80H0.48ZM3.51 -1.42H5.47V0.80H3.51Z"/></g></g>
<g transform="translate(410.62,503) scale(1,1.041)"><text>-0.17</text><g fill="rgb(207,207,255)"><path d="M0.48 -1.42H2.66V0.80H0.48ZM3.51 -1.42H5.47V0.80H3.51Z"/></g></g>
<g transform="translate(434.50,503) scale(1,1.041)"><text>-0.14</text><g fill="rgb(206,206,255)"><path d="M0.48 -1.42H2.66V0.80H0.48ZM3.51 -1.42H5.47V0.80H3.51Z"/></g></g>
<text transform="translate(458.39,503) scale(1,1.041)">-0.35</text>
<text transform="translate(482.28,503) scale(1,1.041)">0</text>
<text transform="translate(506.17,503) scale(1,1.041)">0</text>
<text transform="translate(530.07,503) scale(1,1.041)">0</text>
<text transform="translate(553.96,503) scale(1,1.041)">0</text>
<g transform="translate(577.85,503) scale(1,1.041)"><text>1.00</text><g fill="rgb(140,140,255)"><path d="M-9.11 -1.42H-6.93V0.80H-9.11ZM-6.08 -1.42H-4.12V0.80H-6.08Z"/></g></g>
</g>
<rect x="88.00" y="10.50" width="501.50" height="500.80" fill="none" stroke="#000" stroke-width="2.4"/>
<g stroke="#000" stroke-width="2">
<line x1="81.00" y1="22.45" x2="88.00" y2="22.45"/>
<line x1="81.00" y1="46.30" x2="88.00" y2="46.30"/>
<line x1="81.00" y1="70.15" x2="88.00" y2="70.15"/>
<line x1="81.00" y1="94.00" x2="88.00" y2="94.00"/>
<line x1="81.00" y1="117.85" x2="88.00" y2="117.85"/>
<line x1="81.00" y1="141.70" x2="88.00" y2="141.70"/>
<line x1="81.00" y1="165.55" x2="88.00" y2="165.55"/>
<line x1="81.00" y1="189.40" x2="88.00" y2="189.40"/>
<line x1="81.00" y1="213.25" x2="88.00" y2="213.25"/>
<line x1="81.00" y1="237.10" x2="88.00" y2="237.10"/>
<line x1="81.00" y1="260.95" x2="88.00" y2="260.95"/>
<line x1="81.00" y1="284.80" x2="88.00" y2="284.80"/>
<line x1="81.00" y1="308.65" x2="88.00" y2="308.65"/>
<line x1="81.00" y1="332.50" x2="88.00" y2="332.50"/>
<line x1="81.00" y1="356.35" x2="88.00" y2="356.35"/>
<line x1="81.00" y1="380.20" x2="88.00" y2="380.20"/>
<line x1="81.00" y1="404.05" x2="88.00" y2="404.05"/>
<line x1="81.00" y1="427.90" x2="88.00" y2="427.90"/>
<line x1="81.00" y1="451.75" x2="88.00" y2="451.75"/>
<line x1="81.00" y1="475.60" x2="88.00" y2="475.60"/>
<line x1="81.00" y1="499.45" x2="88.00" y2="499.45"/>
<line x1="100.30" y1="511.30" x2="100.30" y2="518.70"/>
<line x1="124.16" y1="511.30" x2="124.16" y2="518.70"/>
<line x1="148.03" y1="511.30" x2="148.03" y2="518.70"/>
<line x1="171.89" y1="511.30" x2="171.89" y2="518.70"/>
<line x1="195.76" y1="511.30" x2="195.76" y2="518.70"/>
<line x1="219.62" y1="511.30" x2="219.62" y2="518.70"/>
<line x1="243.49" y1="511.30" x2="243.49" y2="518.70"/>
<line x1="267.35" y1="511.30" x2="267.35" y2="518.70"/>
<line x1="291.22" y1="511.30" x2="291.22" y2="518.70"/>
<line x1="315.08" y1="511.30" x2="315.08" y2="518.70"/>
<line x1="338.95" y1="511.30" x2="338.95" y2="518.70"/>
<line x1="362.81" y1="511.30" x2="362.81" y2="518.70"/>
<line x1="386.68" y1="511.30" x2="386.68" y2="518.70"/>
<line x1="410.55" y1="511.30" x2="410.55" y2="518.70"/>
<line x1="434.41" y1="511.30" x2="434.41" y2="518.70"/>
<line x1="458.27" y1="511.30" x2="458.27" y2="518.70"/>
<line x1="482.14" y1="511.30" x2="482.14" y2="518.70"/>
<line x1="506.00" y1="511.30" x2="506.00" y2="518.70"/>
<line x1="529.87" y1="511.30" x2="529.87" y2="518.70"/>
<line x1="553.73" y1="511.30" x2="553.73" y2="518.70"/>
<line x1="577.60" y1="511.30" x2="577.60" y2="518.70"/>
</g>
<g font-size="18.7" font-weight="bold" fill="#000" text-anchor="end">
<g transform="translate(79.80,30) scale(1,1.041)"><text>[77,120]</text><g fill="#fff"><path d="M-37.24 -3.51H-33.06V1.20H-37.24ZM-30.49 -3.51H-26.54V1.20H-30.49Z"/></g></g>
<g transform="translate(79.80,54) scale(1,1.041)"><text>[106,116]</text><g fill="#fff"><path d="M-73.60 -3.51H-69.42V1.20H-73.60ZM-66.85 -3.51H-62.90V1.20H-66.85Z"/><path d="M-37.23 -3.51H-33.04V1.20H-37.23ZM-30.48 -3.51H-26.53V1.20H-30.48Z"/><path d="M-26.84 -3.51H-22.65V1.20H-26.84ZM-20.09 -3.51H-16.14V1.20H-20.09Z"/></g></g>
<g transform="translate(79.80,77) scale(1,1.041)"><text>[106,120]</text><g fill="#fff"><path d="M-73.60 -3.51H-69.42V1.20H-73.60ZM-66.85 -3.51H-62.90V1.20H-66.85Z"/><path d="M-37.23 -3.51H-33.04V1.20H-37.23ZM-30.48 -3.51H-26.53V1.20H-30.48Z"/></g></g>
<g transform="translate(79.80,101) scale(1,1.041)"><text>[115,120]</text><g fill="#fff"><path d="M-73.60 -3.51H-69.42V1.20H-73.60ZM-66.85 -3.51H-62.90V1.20H-66.85Z"/><path d="M-63.21 -3.51H-59.03V1.20H-63.21ZM-56.46 -3.51H-52.51V1.20H-56.46Z"/><path d="M-37.23 -3.51H-33.04V1.20H-37.23ZM-30.48 -3.51H-26.53V1.20H-30.48Z"/></g></g>
<g transform="translate(79.80,125) scale(1,1.041)"><text>[128,136]</text><g fill="#fff"><path d="M-73.60 -3.51H-69.42V1.20H-73.60ZM-66.85 -3.51H-62.90V1.20H-66.85Z"/><path d="M-37.23 -3.51H-33.04V1.20H-37.23ZM-30.48 -3.51H-26.53V1.20H-30.48Z"/></g></g>
<g transform="translate(79.80,149) scale(1,1.041)"><text>[17,133]</text><g fill="#fff"><path d="M-63.21 -3.51H-59.03V1.20H-63.21ZM-56.46 -3.51H-52.51V1.20H-56.46Z"/><path d="M-37.24 -3.51H-33.06V1.20H-37.24ZM-30.49 -3.51H-26.54V1.20H-30.49Z"/></g></g>
<text transform="translate(79.80,173) scale(1,1.041)">[47,96]</text>
<text transform="translate(79.80,197) scale(1,1.041)">[47,98]</text>
<g transform="translate(79.80,220) scale(1,1.041)"><text>[47,108]</text><g fill="#fff"><path d="M-37.24 -3.51H-33.06V1.20H-37.24ZM-30.49 -3.51H-26.54V1.20H-30.49Z"/></g></g>
<g transform="translate(79.80,244) scale(1,1.041)"><text>[46,110]</text><g fill="#fff"><path d="M-37.24 -3.51H-33.06V1.20H-37.24ZM-30.49 -3.51H-26.54V1.20H-30.49Z"/><path d="M-26.84 -3.51H-22.65V1.20H-26.84ZM-20.09 -3.51H-16.14V1.20H-20.09Z"/></g></g>
<g transform="translate(79.80,268) scale(1,1.041)"><text>[47,110]</text><g fill="#fff"><path d="M-37.24 -3.51H-33.06V1.20H-37.24ZM-30.49 -3.51H-26.54V1.20H-30.49Z"/><path d="M-26.84 -3.51H-22.65V1.20H-26.84ZM-20.09 -3.51H-16.14V1.20H-20.09Z"/></g></g>
<g transform="translate(79.80,292) scale(1,1.041)"><text>[47,111]</text><g fill="#fff"><path d="M-37.24 -3.51H-33.06V1.20H-37.24ZM-30.49 -3.51H-26.54V1.20H-30.49Z"/><path d="M-26.84 -3.51H-22.65V1.20H-26.84ZM-20.09 -3.51H-16.14V1.20H-20.09Z"/><path d="M-16.45 -3.51H-12.26V1.20H-16.45ZM-9.69 -3.51H-5.75V1.20H-9.69Z"/></g></g>
<text transform="translate(79.80,316) scale(1,1.041)">[66,96]</text>
<g transform="translate(79.80,340) scale(1,1.041)"><text>[105,110]</text><g fill="#fff"><path d="M-73.60 -3.51H-69.42V1.20H-73.60ZM-66.85 -3.51H-62.90V1.20H-66.85Z"/><path d="M-37.23 -3.51H-33.04V1.20H-37.23ZM-30.48 -3.51H-26.53V1.20H-30.48Z"/><path d="M-26.84 -3.51H-22.65V1.20H-26.84ZM-20.09 -3.51H-16.14V1.20H-20.09Z"/></g></g>
<g transform="translate(79.80,364) scale(1,1.041)"><text>[110,113]</text><g fill="#fff"><path d="M-73.60 -3.51H-69.42V1.20H-73.60ZM-66.85 -3.51H-62.90V1.20H-66.85Z"/><path d="M-63.21 -3.51H-59.03V1.20H-63.21ZM-56.46 -3.51H-52.51V1.20H-56.46Z"/><path d="M-37.23 -3.51H-33.04V1.20H-37.23ZM-30.48 -3.51H-26.53V1.20H-30.48Z"/><path d="M-26.84 -3.51H-22.65V1.20H-26.84ZM-20.09 -3.51H-16.14V1.20H-20.09Z"/></g></g>
<g transform="translate(79.80,387) scale(1,1.041)"><text>[110,133]</text><g fill="#fff"><path d="M-73.60 -3.51H-69.42V1.20H-73.60ZM-66.85 -3.51H-62.90V1.20H-66.85Z"/><path d="M-63.21 -3.51H-59.03V1.20H-63.21ZM-56.46 -3.51H-52.51V1.20H-56.46Z"/><path d="M-37.23 -3.51H-33.04V1.20H-37.23ZM-30.48 -3.51H-26.53V1.20H-30.48Z"/></g></g>
<text transform="translate(79.80,411) scale(1,1.041)">LKES</text>
<text transform="translate(79.80,435) scale(1,1.041)">LMS</text>
<text transform="translate(79.80,459) scale(1,1.041)">QOD-NS</text>
<text transform="translate(79.80,483) scale(1,1.041)">TDI</text>
<text transform="translate(79.80,507) scale(1,1.041)">PHQ-2</text>
<g transform="translate(107.35,521.50) rotate(-90) scale(1,1.041)"><text>[77,120]</text><g fill="#fff"><path d="M-37.24 -3.51H-33.06V1.20H-37.24ZM-30.49 -3.51H-26.54V1.20H-30.49Z"/></g></g>
<g transform="translate(131.22,521.50) rotate(-90) scale(1,1.041)"><text>[106,116]</text><g fill="#fff"><path d="M-73.60 -3.51H-69.42V1.20H-73.60ZM-66.85 -3.51H-62.90V1.20H-66.85Z"/><path d="M-37.23 -3.51H-33.04V1.20H-37.23ZM-30.48 -3.51H-26.53V1.20H-30.48Z"/><path d="M-26.84 -3.51H-22.65V1.20H-26.84ZM-20.09 -3.51H-16.14V1.20H-20.09Z"/></g></g>
<g transform="translate(155.08,521.50) rotate(-90) scale(1,1.041)"><text>[106,120]</text><g fill="#fff"><path d="M-73.60 -3.51H-69.42V1.20H-73.60ZM-66.85 -3.51H-62.90V1.20H-66.85Z"/><path d="M-37.23 -3.51H-33.04V1.20H-37.23ZM-30.48 -3.51H-26.53V1.20H-30.48Z"/></g></g>
<g transform="translate(178.94,521.50) rotate(-90) scale(1,1.041)"><text>[115,120]</text><g fill="#fff"><path d="M-73.60 -3.51H-69.42V1.20H-73.60ZM-66.85 -3.51H-62.90V1.20H-66.85Z"/><path d="M-63.21 -3.51H-59.03V1.20H-63.21ZM-56.46 -3.51H-52.51V1.20H-56.46Z"/><path d="M-37.23 -3.51H-33.04V1.20H-37.23ZM-30.48 -3.51H-26.53V1.20H-30.48Z"/></g></g>
<g transform="translate(202.81,521.50) rotate(-90) scale(1,1.041)"><text>[128,136]</text><g fill="#fff"><path d="M-73.60 -3.51H-69.42V1.20H-73.60ZM-66.85 -3.51H-62.90V1.20H-66.85Z"/><path d="M-37.23 -3.51H-33.04V1.20H-37.23ZM-30.48 -3.51H-26.53V1.20H-30.48Z"/></g></g>
<g transform="translate(226.68,521.50) rotate(-90) scale(1,1.041)"><text>[17,133]</text><g fill="#fff"><path d="M-63.21 -3.51H-59.03V1.20H-63.21ZM-56.46 -3.51H-52.51V1.20H-56.46Z"/><path d="M-37.24 -3.51H-33.06V1.20H-37.24ZM-30.49 -3.51H-26.54V1.20H-30.49Z"/></g></g>
<text transform="translate(250.54,521.50) rotate(-90) scale(1,1.041)">[47,96]</text>
<text transform="translate(274.40,521.50) rotate(-90) scale(1,1.041)">[47,98]</text>
<g transform="translate(298.27,521.50) rotate(-90) scale(1,1.041)"><text>[47,108]</text><g fill="#fff"><path d="M-37.24 -3.51H-33.06V1.20H-37.24ZM-30.49 -3.51H-26.54V1.20H-30.49Z"/></g></g>
<g transform="translate(322.13,521.50) rotate(-90) scale(1,1.041)"><text>[46,110]</text><g fill="#fff"><path d="M-37.24 -3.51H-33.06V1.20H-37.24ZM-30.49 -3.51H-26.54V1.20H-30.49Z"/><path d="M-26.84 -3.51H-22.65V1.20H-26.84ZM-20.09 -3.51H-16.14V1.20H-20.09Z"/></g></g>
<g transform="translate(346.00,521.50) rotate(-90) scale(1,1.041)"><text>[47,110]</text><g fill="#fff"><path d="M-37.24 -3.51H-33.06V1.20H-37.24ZM-30.49 -3.51H-26.54V1.20H-30.49Z"/><path d="M-26.84 -3.51H-22.65V1.20H-26.84ZM-20.09 -3.51H-16.14V1.20H-20.09Z"/></g></g>
<g transform="translate(369.87,521.50) rotate(-90) scale(1,1.041)"><text>[47,111]</text><g fill="#fff"><path d="M-37.24 -3.51H-33.06V1.20H-37.24ZM-30.49 -3.51H-26.54V1.20H-30.49Z"/><path d="M-26.84 -3.51H-22.65V1.20H-26.84ZM-20.09 -3.51H-16.14V1.20H-20.09Z"/><path d="M-16.45 -3.51H-12.26V1.20H-16.45ZM-9.69 -3.51H-5.75V1.20H-9.69Z"/></g></g>
<text transform="translate(393.73,521.50) rotate(-90) scale(1,1.041)">[66,96]</text>
<g transform="translate(417.60,521.50) rotate(-90) scale(1,1.041)"><text>[105,110]</text><g fill="#fff"><path d="M-73.60 -3.51H-69.42V1.20H-73.60ZM-66.85 -3.51H-62.90V1.20H-66.85Z"/><path d="M-37.23 -3.51H-33.04V1.20H-37.23ZM-30.48 -3.51H-26.53V1.20H-30.48Z"/><path d="M-26.84 -3.51H-22.65V1.20H-26.84ZM-20.09 -3.51H-16.14V1.20H-20.09Z"/></g></g>
<g transform="translate(441.46,521.50) rotate(-90) scale(1,1.041)"><text>[110,113]</text><g fill="#fff"><path d="M-73.60 -3.51H-69.42V1.20H-73.60ZM-66.85 -3.51H-62.90V1.20H-66.85Z"/><path d="M-63.21 -3.51H-59.03V1.20H-63.21ZM-56.46 -3.51H-52.51V1.20H-56.46Z"/><path d="M-37.23 -3.51H-33.04V1.20H-37.23ZM-30.48 -3.51H-26.53V1.20H-30.48Z"/><path d="M-26.84 -3.51H-22.65V1.20H-26.84ZM-20.09 -3.51H-16.14V1.20H-20.09Z"/></g></g>
<g transform="translate(465.32,521.50) rotate(-90) scale(1,1.041)"><text>[110,133]</text><g fill="#fff"><path d="M-73.60 -3.51H-69.42V1.20H-73.60ZM-66.85 -3.51H-62.90V1.20H-66.85Z"/><path d="M-63.21 -3.51H-59.03V1.20H-63.21ZM-56.46 -3.51H-52.51V1.20H-56.46Z"/><path d="M-37.23 -3.51H-33.04V1.20H-37.23ZM-30.48 -3.51H-26.53V1.20H-30.48Z"/></g></g>
<text transform="translate(489.19,521.50) rotate(-90) scale(1,1.041)">LKES</text>
<text transform="translate(513.05,521.50) rotate(-90) scale(1,1.041)">LMS</text>
<text transform="translate(536.92,521.50) rotate(-90) scale(1,1.041)">QOD-NS</text>
<text transform="translate(560.78,521.50) rotate(-90) scale(1,1.041)">TDI</text>
<text transform="translate(584.65,521.50) rotate(-90) scale(1,1.041)">PHQ-2</text>
</g>
<rect x="610.30" y="10.70" width="20.00" height="500.70" fill="url(#cb)" stroke="#000" stroke-width="2.4"/>
<g stroke="#000" stroke-width="2">
<line x1="610.30" y1="135.88" x2="613.80" y2="135.88"/>
<line x1="626.80" y1="135.88" x2="630.30" y2="135.88"/>
<line x1="610.30" y1="261.05" x2="613.80" y2="261.05"/>
<line x1="626.80" y1="261.05" x2="630.30" y2="261.05"/>
<line x1="610.30" y1="386.22" x2="613.80" y2="386.22"/>
<line x1="626.80" y1="386.22" x2="630.30" y2="386.22"/>
</g>
<g font-size="28" fill="#000">
<g transform="translate(637.80,21) scale(1,1.041)"><text>1.0</text><g fill="#fff"><path d="M1.13 -3.69H7.04V1.20H1.13ZM9.52 -3.69H15.21V1.20H9.52Z"/></g></g>
<text transform="translate(637.80,146) scale(1,1.041)">0.5</text>
<text transform="translate(637.80,271) scale(1,1.041)">0</text>
<text transform="translate(637.80,396) scale(1,1.041)">-0.5</text>
<g transform="translate(637.80,522) scale(1,1.041)"><text>-1.0</text><g fill="#fff"><path d="M10.45 -3.69H16.35V1.20H10.45ZM18.83 -3.69H24.52V1.20H18.83Z"/></g></g>
</g>
</svg></body></html>
